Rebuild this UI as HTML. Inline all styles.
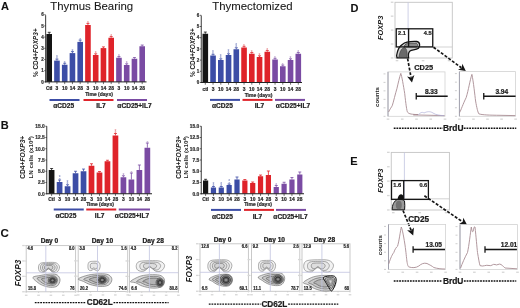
<!DOCTYPE html><html><head><meta charset="utf-8"><style>html,body{margin:0;padding:0;background:#fff;width:520px;height:308px;overflow:hidden}svg{display:block;filter:blur(0.3px)}</style></head><body>
<svg width="520" height="308" viewBox="0 0 520 308">
<rect width="520" height="308" fill="#fff"/>
<text x="4.90" y="9.95" font-family="Liberation Sans" font-size="11" font-weight="bold" text-anchor="middle" fill="#111" stroke="#111" stroke-width="0.1" >A</text>
<text x="4.80" y="129.10" font-family="Liberation Sans" font-size="11" font-weight="bold" text-anchor="middle" fill="#111" stroke="#111" stroke-width="0.1" >B</text>
<text x="4.70" y="236.90" font-family="Liberation Sans" font-size="11.5" font-weight="bold" text-anchor="middle" fill="#111" stroke="#111" stroke-width="0.1" >C</text>
<text x="354.40" y="11.90" font-family="Liberation Sans" font-size="11" font-weight="bold" text-anchor="middle" fill="#111" stroke="#111" stroke-width="0.1" >D</text>
<text x="354.00" y="165.00" font-family="Liberation Sans" font-size="11" font-weight="bold" text-anchor="middle" fill="#111" stroke="#111" stroke-width="0.1" >E</text>
<text x="91.70" y="9.90" font-family="Liberation Sans" font-size="11.4" font-weight="normal" text-anchor="middle" fill="#1a1a1a" stroke="#1a1a1a" stroke-width="0.1" >Thymus Bearing</text>
<text x="252.50" y="9.90" font-family="Liberation Sans" font-size="11.4" font-weight="normal" text-anchor="middle" fill="#1a1a1a" stroke="#1a1a1a" stroke-width="0.1" >Thymectomized</text>
<rect x="46.40" y="34.00" width="5.6" height="47.90" fill="#141414"/>
<line x1="49.20" y1="32.30" x2="49.20" y2="34.00" stroke="#141414" stroke-width="0.8"/>
<line x1="47.70" y1="32.30" x2="50.70" y2="32.30" stroke="#141414" stroke-width="0.8"/>
<line x1="49.20" y1="81.90" x2="49.20" y2="84.10" stroke="#222" stroke-width="0.65"/>
<rect x="54.15" y="60.60" width="5.6" height="21.30" fill="#3c4da6"/>
<line x1="56.95" y1="59.10" x2="56.95" y2="60.60" stroke="#3c4da6" stroke-width="0.8"/>
<line x1="55.45" y1="59.10" x2="58.45" y2="59.10" stroke="#3c4da6" stroke-width="0.8"/>
<text x="56.95" y="60.70" font-family="Liberation Sans" font-size="4.8" font-weight="bold" text-anchor="middle" fill="#8a94c8">*</text>
<text x="56.95" y="58.50" font-family="Liberation Sans" font-size="4.8" font-weight="bold" text-anchor="middle" fill="#8a94c8">*</text>
<line x1="56.95" y1="81.90" x2="56.95" y2="84.10" stroke="#222" stroke-width="0.65"/>
<rect x="61.90" y="64.75" width="5.6" height="17.15" fill="#3c4da6"/>
<line x1="64.70" y1="63.25" x2="64.70" y2="64.75" stroke="#3c4da6" stroke-width="0.8"/>
<line x1="63.20" y1="63.25" x2="66.20" y2="63.25" stroke="#3c4da6" stroke-width="0.8"/>
<text x="64.70" y="64.85" font-family="Liberation Sans" font-size="4.8" font-weight="bold" text-anchor="middle" fill="#8a94c8">*</text>
<line x1="64.70" y1="81.90" x2="64.70" y2="84.10" stroke="#222" stroke-width="0.65"/>
<rect x="69.65" y="53.10" width="5.6" height="28.80" fill="#3c4da6"/>
<line x1="72.45" y1="51.60" x2="72.45" y2="53.10" stroke="#3c4da6" stroke-width="0.8"/>
<line x1="70.95" y1="51.60" x2="73.95" y2="51.60" stroke="#3c4da6" stroke-width="0.8"/>
<text x="72.45" y="53.20" font-family="Liberation Sans" font-size="4.8" font-weight="bold" text-anchor="middle" fill="#8a94c8">*</text>
<line x1="72.45" y1="81.90" x2="72.45" y2="84.10" stroke="#222" stroke-width="0.65"/>
<rect x="77.40" y="41.90" width="5.6" height="40.00" fill="#3c4da6"/>
<line x1="80.20" y1="40.10" x2="80.20" y2="41.90" stroke="#3c4da6" stroke-width="0.8"/>
<line x1="78.70" y1="40.10" x2="81.70" y2="40.10" stroke="#3c4da6" stroke-width="0.8"/>
<text x="80.20" y="41.70" font-family="Liberation Sans" font-size="4.8" font-weight="bold" text-anchor="middle" fill="#8a94c8">*</text>
<line x1="80.20" y1="81.90" x2="80.20" y2="84.10" stroke="#222" stroke-width="0.65"/>
<rect x="85.15" y="25.00" width="5.6" height="56.90" fill="#df232a"/>
<line x1="87.95" y1="23.40" x2="87.95" y2="25.00" stroke="#df232a" stroke-width="0.8"/>
<line x1="86.45" y1="23.40" x2="89.45" y2="23.40" stroke="#df232a" stroke-width="0.8"/>
<text x="87.95" y="25.00" font-family="Liberation Sans" font-size="4.8" font-weight="bold" text-anchor="middle" fill="#e88a8e">*</text>
<line x1="87.95" y1="81.90" x2="87.95" y2="84.10" stroke="#222" stroke-width="0.65"/>
<rect x="92.90" y="55.00" width="5.6" height="26.90" fill="#df232a"/>
<line x1="95.70" y1="53.80" x2="95.70" y2="55.00" stroke="#df232a" stroke-width="0.8"/>
<line x1="94.20" y1="53.80" x2="97.20" y2="53.80" stroke="#df232a" stroke-width="0.8"/>
<text x="95.70" y="55.40" font-family="Liberation Sans" font-size="4.8" font-weight="bold" text-anchor="middle" fill="#e88a8e">*</text>
<line x1="95.70" y1="81.90" x2="95.70" y2="84.10" stroke="#222" stroke-width="0.65"/>
<rect x="100.65" y="48.10" width="5.6" height="33.80" fill="#df232a"/>
<line x1="103.45" y1="46.90" x2="103.45" y2="48.10" stroke="#df232a" stroke-width="0.8"/>
<line x1="101.95" y1="46.90" x2="104.95" y2="46.90" stroke="#df232a" stroke-width="0.8"/>
<line x1="103.45" y1="81.90" x2="103.45" y2="84.10" stroke="#222" stroke-width="0.65"/>
<rect x="108.40" y="37.75" width="5.6" height="44.15" fill="#df232a"/>
<line x1="111.20" y1="36.55" x2="111.20" y2="37.75" stroke="#df232a" stroke-width="0.8"/>
<line x1="109.70" y1="36.55" x2="112.70" y2="36.55" stroke="#df232a" stroke-width="0.8"/>
<text x="111.20" y="38.15" font-family="Liberation Sans" font-size="4.8" font-weight="bold" text-anchor="middle" fill="#e88a8e">*</text>
<line x1="111.20" y1="81.90" x2="111.20" y2="84.10" stroke="#222" stroke-width="0.65"/>
<rect x="116.15" y="57.75" width="5.6" height="24.15" fill="#7a4ba3"/>
<line x1="118.95" y1="56.55" x2="118.95" y2="57.75" stroke="#7a4ba3" stroke-width="0.8"/>
<line x1="117.45" y1="56.55" x2="120.45" y2="56.55" stroke="#7a4ba3" stroke-width="0.8"/>
<text x="118.95" y="58.15" font-family="Liberation Sans" font-size="4.8" font-weight="bold" text-anchor="middle" fill="#b49ac8">*</text>
<line x1="118.95" y1="81.90" x2="118.95" y2="84.10" stroke="#222" stroke-width="0.65"/>
<rect x="123.90" y="65.00" width="5.6" height="16.90" fill="#7a4ba3"/>
<line x1="126.70" y1="63.80" x2="126.70" y2="65.00" stroke="#7a4ba3" stroke-width="0.8"/>
<line x1="125.20" y1="63.80" x2="128.20" y2="63.80" stroke="#7a4ba3" stroke-width="0.8"/>
<text x="126.70" y="65.40" font-family="Liberation Sans" font-size="4.8" font-weight="bold" text-anchor="middle" fill="#b49ac8">*</text>
<line x1="126.70" y1="81.90" x2="126.70" y2="84.10" stroke="#222" stroke-width="0.65"/>
<rect x="131.65" y="58.75" width="5.6" height="23.15" fill="#7a4ba3"/>
<line x1="134.45" y1="57.55" x2="134.45" y2="58.75" stroke="#7a4ba3" stroke-width="0.8"/>
<line x1="132.95" y1="57.55" x2="135.95" y2="57.55" stroke="#7a4ba3" stroke-width="0.8"/>
<line x1="134.45" y1="81.90" x2="134.45" y2="84.10" stroke="#222" stroke-width="0.65"/>
<rect x="139.40" y="46.25" width="5.6" height="35.65" fill="#7a4ba3"/>
<line x1="142.20" y1="45.05" x2="142.20" y2="46.25" stroke="#7a4ba3" stroke-width="0.8"/>
<line x1="140.70" y1="45.05" x2="143.70" y2="45.05" stroke="#7a4ba3" stroke-width="0.8"/>
<line x1="142.20" y1="81.90" x2="142.20" y2="84.10" stroke="#222" stroke-width="0.65"/>
<line x1="45.65" y1="15.2" x2="45.65" y2="82.4" stroke="#222" stroke-width="0.9"/>
<line x1="45.25" y1="81.9" x2="146.5" y2="81.9" stroke="#222" stroke-width="1"/>
<line x1="44.25" y1="81.90" x2="45.65" y2="81.90" stroke="#222" stroke-width="0.7"/>
<text x="43.65" y="83.52" font-family="Liberation Sans" font-size="4.5" font-weight="bold" text-anchor="end" fill="#333" stroke="#333" stroke-width="0.22" >0</text>
<line x1="44.25" y1="70.70" x2="45.65" y2="70.70" stroke="#222" stroke-width="0.7"/>
<text x="43.65" y="72.32" font-family="Liberation Sans" font-size="4.5" font-weight="bold" text-anchor="end" fill="#333" stroke="#333" stroke-width="0.22" >1</text>
<line x1="44.25" y1="59.50" x2="45.65" y2="59.50" stroke="#222" stroke-width="0.7"/>
<text x="43.65" y="61.12" font-family="Liberation Sans" font-size="4.5" font-weight="bold" text-anchor="end" fill="#333" stroke="#333" stroke-width="0.22" >2</text>
<line x1="44.25" y1="48.30" x2="45.65" y2="48.30" stroke="#222" stroke-width="0.7"/>
<text x="43.65" y="49.92" font-family="Liberation Sans" font-size="4.5" font-weight="bold" text-anchor="end" fill="#333" stroke="#333" stroke-width="0.22" >3</text>
<line x1="44.25" y1="37.10" x2="45.65" y2="37.10" stroke="#222" stroke-width="0.7"/>
<text x="43.65" y="38.72" font-family="Liberation Sans" font-size="4.5" font-weight="bold" text-anchor="end" fill="#333" stroke="#333" stroke-width="0.22" >4</text>
<line x1="44.25" y1="25.90" x2="45.65" y2="25.90" stroke="#222" stroke-width="0.7"/>
<text x="43.65" y="27.52" font-family="Liberation Sans" font-size="4.5" font-weight="bold" text-anchor="end" fill="#333" stroke="#333" stroke-width="0.22" >5</text>
<line x1="44.25" y1="14.70" x2="45.65" y2="14.70" stroke="#222" stroke-width="0.7"/>
<text x="43.65" y="16.32" font-family="Liberation Sans" font-size="4.5" font-weight="bold" text-anchor="end" fill="#333" stroke="#333" stroke-width="0.22" >6</text>
<text x="49.20" y="89.85" font-family="Liberation Sans" font-size="4.9" font-weight="bold" text-anchor="middle" fill="#2a2a2a" stroke="#2a2a2a" stroke-width="0.22" >Ctl</text>
<text x="56.95" y="89.85" font-family="Liberation Sans" font-size="4.9" font-weight="bold" text-anchor="middle" fill="#2a2a2a" stroke="#2a2a2a" stroke-width="0.22" >3</text>
<text x="64.70" y="89.85" font-family="Liberation Sans" font-size="4.9" font-weight="bold" text-anchor="middle" fill="#2a2a2a" stroke="#2a2a2a" stroke-width="0.22" >10</text>
<text x="72.45" y="89.85" font-family="Liberation Sans" font-size="4.9" font-weight="bold" text-anchor="middle" fill="#2a2a2a" stroke="#2a2a2a" stroke-width="0.22" >14</text>
<text x="80.20" y="89.85" font-family="Liberation Sans" font-size="4.9" font-weight="bold" text-anchor="middle" fill="#2a2a2a" stroke="#2a2a2a" stroke-width="0.22" >28</text>
<text x="87.95" y="89.85" font-family="Liberation Sans" font-size="4.9" font-weight="bold" text-anchor="middle" fill="#2a2a2a" stroke="#2a2a2a" stroke-width="0.22" >3</text>
<text x="95.70" y="89.85" font-family="Liberation Sans" font-size="4.9" font-weight="bold" text-anchor="middle" fill="#2a2a2a" stroke="#2a2a2a" stroke-width="0.22" >10</text>
<text x="103.45" y="89.85" font-family="Liberation Sans" font-size="4.9" font-weight="bold" text-anchor="middle" fill="#2a2a2a" stroke="#2a2a2a" stroke-width="0.22" >14</text>
<text x="111.20" y="89.85" font-family="Liberation Sans" font-size="4.9" font-weight="bold" text-anchor="middle" fill="#2a2a2a" stroke="#2a2a2a" stroke-width="0.22" >28</text>
<text x="118.95" y="89.85" font-family="Liberation Sans" font-size="4.9" font-weight="bold" text-anchor="middle" fill="#2a2a2a" stroke="#2a2a2a" stroke-width="0.22" >3</text>
<text x="126.70" y="89.85" font-family="Liberation Sans" font-size="4.9" font-weight="bold" text-anchor="middle" fill="#2a2a2a" stroke="#2a2a2a" stroke-width="0.22" >10</text>
<text x="134.45" y="89.85" font-family="Liberation Sans" font-size="4.9" font-weight="bold" text-anchor="middle" fill="#2a2a2a" stroke="#2a2a2a" stroke-width="0.22" >14</text>
<text x="142.20" y="89.85" font-family="Liberation Sans" font-size="4.9" font-weight="bold" text-anchor="middle" fill="#2a2a2a" stroke="#2a2a2a" stroke-width="0.22" >28</text>
<text x="99.00" y="96.00" font-family="Liberation Sans" font-size="5.0" font-weight="bold" text-anchor="middle" fill="#2a2a2a" stroke="#2a2a2a" stroke-width="0.22" >Time (days)</text>
<line x1="49.5" y1="100" x2="79.5" y2="100" stroke="#3c4da6" stroke-width="2.0"/>
<line x1="83.5" y1="100" x2="113.5" y2="100" stroke="#df232a" stroke-width="2.0"/>
<line x1="117" y1="100" x2="147" y2="100" stroke="#7a4ba3" stroke-width="2.0"/>
<text x="63.70" y="107.90" font-family="Liberation Sans" font-size="6.6" font-weight="bold" text-anchor="middle" fill="#222" stroke="#222" stroke-width="0.22" >αCD25</text>
<text x="101.00" y="107.90" font-family="Liberation Sans" font-size="6.6" font-weight="bold" text-anchor="middle" fill="#222" stroke="#222" stroke-width="0.22" >IL7</text>
<text x="134.50" y="107.90" font-family="Liberation Sans" font-size="6.6" font-weight="bold" text-anchor="middle" fill="#222" stroke="#222" stroke-width="0.22" >αCD25+IL7</text>
<g transform="translate(37.8,52.7) rotate(-90)"><text x="0" y="0" font-family="Liberation Sans" font-size="6.4" font-weight="bold" text-anchor="middle" fill="#222">% CD4+<tspan font-style="italic">FOXP3</tspan>+</text></g>
<rect x="202.50" y="33.75" width="5.6" height="48.75" fill="#141414"/>
<line x1="205.30" y1="32.05" x2="205.30" y2="33.75" stroke="#141414" stroke-width="0.8"/>
<line x1="203.80" y1="32.05" x2="206.80" y2="32.05" stroke="#141414" stroke-width="0.8"/>
<line x1="205.30" y1="82.50" x2="205.30" y2="84.70" stroke="#222" stroke-width="0.65"/>
<rect x="210.25" y="55.50" width="5.6" height="27.00" fill="#3c4da6"/>
<line x1="213.05" y1="54.30" x2="213.05" y2="55.50" stroke="#3c4da6" stroke-width="0.8"/>
<line x1="211.55" y1="54.30" x2="214.55" y2="54.30" stroke="#3c4da6" stroke-width="0.8"/>
<text x="213.05" y="55.90" font-family="Liberation Sans" font-size="4.8" font-weight="bold" text-anchor="middle" fill="#8a94c8">*</text>
<text x="213.05" y="53.70" font-family="Liberation Sans" font-size="4.8" font-weight="bold" text-anchor="middle" fill="#8a94c8">*</text>
<line x1="213.05" y1="82.50" x2="213.05" y2="84.70" stroke="#222" stroke-width="0.65"/>
<rect x="218.00" y="60.00" width="5.6" height="22.50" fill="#3c4da6"/>
<line x1="220.80" y1="58.80" x2="220.80" y2="60.00" stroke="#3c4da6" stroke-width="0.8"/>
<line x1="219.30" y1="58.80" x2="222.30" y2="58.80" stroke="#3c4da6" stroke-width="0.8"/>
<text x="220.80" y="60.40" font-family="Liberation Sans" font-size="4.8" font-weight="bold" text-anchor="middle" fill="#8a94c8">*</text>
<text x="220.80" y="58.20" font-family="Liberation Sans" font-size="4.8" font-weight="bold" text-anchor="middle" fill="#8a94c8">*</text>
<line x1="220.80" y1="82.50" x2="220.80" y2="84.70" stroke="#222" stroke-width="0.65"/>
<rect x="225.75" y="55.00" width="5.6" height="27.50" fill="#3c4da6"/>
<line x1="228.55" y1="53.80" x2="228.55" y2="55.00" stroke="#3c4da6" stroke-width="0.8"/>
<line x1="227.05" y1="53.80" x2="230.05" y2="53.80" stroke="#3c4da6" stroke-width="0.8"/>
<text x="228.55" y="55.40" font-family="Liberation Sans" font-size="4.8" font-weight="bold" text-anchor="middle" fill="#8a94c8">*</text>
<text x="228.55" y="53.20" font-family="Liberation Sans" font-size="4.8" font-weight="bold" text-anchor="middle" fill="#8a94c8">*</text>
<line x1="228.55" y1="82.50" x2="228.55" y2="84.70" stroke="#222" stroke-width="0.65"/>
<rect x="233.50" y="49.25" width="5.6" height="33.25" fill="#3c4da6"/>
<line x1="236.30" y1="47.75" x2="236.30" y2="49.25" stroke="#3c4da6" stroke-width="0.8"/>
<line x1="234.80" y1="47.75" x2="237.80" y2="47.75" stroke="#3c4da6" stroke-width="0.8"/>
<text x="236.30" y="49.35" font-family="Liberation Sans" font-size="4.8" font-weight="bold" text-anchor="middle" fill="#8a94c8">*</text>
<text x="236.30" y="47.15" font-family="Liberation Sans" font-size="4.8" font-weight="bold" text-anchor="middle" fill="#8a94c8">*</text>
<line x1="236.30" y1="82.50" x2="236.30" y2="84.70" stroke="#222" stroke-width="0.65"/>
<rect x="241.25" y="47.50" width="5.6" height="35.00" fill="#df232a"/>
<line x1="244.05" y1="46.30" x2="244.05" y2="47.50" stroke="#df232a" stroke-width="0.8"/>
<line x1="242.55" y1="46.30" x2="245.55" y2="46.30" stroke="#df232a" stroke-width="0.8"/>
<text x="244.05" y="47.90" font-family="Liberation Sans" font-size="4.8" font-weight="bold" text-anchor="middle" fill="#e88a8e">*</text>
<line x1="244.05" y1="82.50" x2="244.05" y2="84.70" stroke="#222" stroke-width="0.65"/>
<rect x="249.00" y="53.75" width="5.6" height="28.75" fill="#df232a"/>
<line x1="251.80" y1="52.55" x2="251.80" y2="53.75" stroke="#df232a" stroke-width="0.8"/>
<line x1="250.30" y1="52.55" x2="253.30" y2="52.55" stroke="#df232a" stroke-width="0.8"/>
<text x="251.80" y="54.15" font-family="Liberation Sans" font-size="4.8" font-weight="bold" text-anchor="middle" fill="#e88a8e">*</text>
<line x1="251.80" y1="82.50" x2="251.80" y2="84.70" stroke="#222" stroke-width="0.65"/>
<rect x="256.75" y="57.00" width="5.6" height="25.50" fill="#df232a"/>
<line x1="259.55" y1="55.80" x2="259.55" y2="57.00" stroke="#df232a" stroke-width="0.8"/>
<line x1="258.05" y1="55.80" x2="261.05" y2="55.80" stroke="#df232a" stroke-width="0.8"/>
<text x="259.55" y="57.40" font-family="Liberation Sans" font-size="4.8" font-weight="bold" text-anchor="middle" fill="#e88a8e">*</text>
<line x1="259.55" y1="82.50" x2="259.55" y2="84.70" stroke="#222" stroke-width="0.65"/>
<rect x="264.50" y="51.75" width="5.6" height="30.75" fill="#df232a"/>
<line x1="267.30" y1="50.55" x2="267.30" y2="51.75" stroke="#df232a" stroke-width="0.8"/>
<line x1="265.80" y1="50.55" x2="268.80" y2="50.55" stroke="#df232a" stroke-width="0.8"/>
<text x="267.30" y="52.15" font-family="Liberation Sans" font-size="4.8" font-weight="bold" text-anchor="middle" fill="#e88a8e">*</text>
<line x1="267.30" y1="82.50" x2="267.30" y2="84.70" stroke="#222" stroke-width="0.65"/>
<rect x="272.25" y="59.50" width="5.6" height="23.00" fill="#7a4ba3"/>
<line x1="275.05" y1="58.30" x2="275.05" y2="59.50" stroke="#7a4ba3" stroke-width="0.8"/>
<line x1="273.55" y1="58.30" x2="276.55" y2="58.30" stroke="#7a4ba3" stroke-width="0.8"/>
<text x="275.05" y="59.90" font-family="Liberation Sans" font-size="4.8" font-weight="bold" text-anchor="middle" fill="#b49ac8">*</text>
<line x1="275.05" y1="82.50" x2="275.05" y2="84.70" stroke="#222" stroke-width="0.65"/>
<rect x="280.00" y="66.25" width="5.6" height="16.25" fill="#7a4ba3"/>
<line x1="282.80" y1="65.05" x2="282.80" y2="66.25" stroke="#7a4ba3" stroke-width="0.8"/>
<line x1="281.30" y1="65.05" x2="284.30" y2="65.05" stroke="#7a4ba3" stroke-width="0.8"/>
<text x="282.80" y="66.65" font-family="Liberation Sans" font-size="4.8" font-weight="bold" text-anchor="middle" fill="#b49ac8">*</text>
<line x1="282.80" y1="82.50" x2="282.80" y2="84.70" stroke="#222" stroke-width="0.65"/>
<rect x="287.75" y="60.00" width="5.6" height="22.50" fill="#7a4ba3"/>
<line x1="290.55" y1="58.80" x2="290.55" y2="60.00" stroke="#7a4ba3" stroke-width="0.8"/>
<line x1="289.05" y1="58.80" x2="292.05" y2="58.80" stroke="#7a4ba3" stroke-width="0.8"/>
<text x="290.55" y="60.40" font-family="Liberation Sans" font-size="4.8" font-weight="bold" text-anchor="middle" fill="#b49ac8">*</text>
<line x1="290.55" y1="82.50" x2="290.55" y2="84.70" stroke="#222" stroke-width="0.65"/>
<rect x="295.50" y="53.75" width="5.6" height="28.75" fill="#7a4ba3"/>
<line x1="298.30" y1="52.55" x2="298.30" y2="53.75" stroke="#7a4ba3" stroke-width="0.8"/>
<line x1="296.80" y1="52.55" x2="299.80" y2="52.55" stroke="#7a4ba3" stroke-width="0.8"/>
<text x="298.30" y="54.15" font-family="Liberation Sans" font-size="4.8" font-weight="bold" text-anchor="middle" fill="#b49ac8">*</text>
<line x1="298.30" y1="82.50" x2="298.30" y2="84.70" stroke="#222" stroke-width="0.65"/>
<line x1="201.25" y1="15.5" x2="201.25" y2="83.0" stroke="#222" stroke-width="0.9"/>
<line x1="200.85" y1="82.5" x2="302" y2="82.5" stroke="#222" stroke-width="1"/>
<line x1="199.85" y1="82.50" x2="201.25" y2="82.50" stroke="#222" stroke-width="0.7"/>
<text x="199.25" y="84.12" font-family="Liberation Sans" font-size="4.5" font-weight="bold" text-anchor="end" fill="#333" stroke="#333" stroke-width="0.22" >0</text>
<line x1="199.85" y1="71.30" x2="201.25" y2="71.30" stroke="#222" stroke-width="0.7"/>
<text x="199.25" y="72.92" font-family="Liberation Sans" font-size="4.5" font-weight="bold" text-anchor="end" fill="#333" stroke="#333" stroke-width="0.22" >1</text>
<line x1="199.85" y1="60.10" x2="201.25" y2="60.10" stroke="#222" stroke-width="0.7"/>
<text x="199.25" y="61.72" font-family="Liberation Sans" font-size="4.5" font-weight="bold" text-anchor="end" fill="#333" stroke="#333" stroke-width="0.22" >2</text>
<line x1="199.85" y1="48.90" x2="201.25" y2="48.90" stroke="#222" stroke-width="0.7"/>
<text x="199.25" y="50.52" font-family="Liberation Sans" font-size="4.5" font-weight="bold" text-anchor="end" fill="#333" stroke="#333" stroke-width="0.22" >3</text>
<line x1="199.85" y1="37.70" x2="201.25" y2="37.70" stroke="#222" stroke-width="0.7"/>
<text x="199.25" y="39.32" font-family="Liberation Sans" font-size="4.5" font-weight="bold" text-anchor="end" fill="#333" stroke="#333" stroke-width="0.22" >4</text>
<line x1="199.85" y1="26.50" x2="201.25" y2="26.50" stroke="#222" stroke-width="0.7"/>
<text x="199.25" y="28.12" font-family="Liberation Sans" font-size="4.5" font-weight="bold" text-anchor="end" fill="#333" stroke="#333" stroke-width="0.22" >5</text>
<line x1="199.85" y1="15.30" x2="201.25" y2="15.30" stroke="#222" stroke-width="0.7"/>
<text x="199.25" y="16.92" font-family="Liberation Sans" font-size="4.5" font-weight="bold" text-anchor="end" fill="#333" stroke="#333" stroke-width="0.22" >6</text>
<text x="205.30" y="90.50" font-family="Liberation Sans" font-size="4.9" font-weight="bold" text-anchor="middle" fill="#2a2a2a" stroke="#2a2a2a" stroke-width="0.22" >ctl</text>
<text x="213.05" y="90.50" font-family="Liberation Sans" font-size="4.9" font-weight="bold" text-anchor="middle" fill="#2a2a2a" stroke="#2a2a2a" stroke-width="0.22" >3</text>
<text x="220.80" y="90.50" font-family="Liberation Sans" font-size="4.9" font-weight="bold" text-anchor="middle" fill="#2a2a2a" stroke="#2a2a2a" stroke-width="0.22" >10</text>
<text x="228.55" y="90.50" font-family="Liberation Sans" font-size="4.9" font-weight="bold" text-anchor="middle" fill="#2a2a2a" stroke="#2a2a2a" stroke-width="0.22" >14</text>
<text x="236.30" y="90.50" font-family="Liberation Sans" font-size="4.9" font-weight="bold" text-anchor="middle" fill="#2a2a2a" stroke="#2a2a2a" stroke-width="0.22" >28</text>
<text x="244.05" y="90.50" font-family="Liberation Sans" font-size="4.9" font-weight="bold" text-anchor="middle" fill="#2a2a2a" stroke="#2a2a2a" stroke-width="0.22" >3</text>
<text x="251.80" y="90.50" font-family="Liberation Sans" font-size="4.9" font-weight="bold" text-anchor="middle" fill="#2a2a2a" stroke="#2a2a2a" stroke-width="0.22" >10</text>
<text x="259.55" y="90.50" font-family="Liberation Sans" font-size="4.9" font-weight="bold" text-anchor="middle" fill="#2a2a2a" stroke="#2a2a2a" stroke-width="0.22" >14</text>
<text x="267.30" y="90.50" font-family="Liberation Sans" font-size="4.9" font-weight="bold" text-anchor="middle" fill="#2a2a2a" stroke="#2a2a2a" stroke-width="0.22" >28</text>
<text x="275.05" y="90.50" font-family="Liberation Sans" font-size="4.9" font-weight="bold" text-anchor="middle" fill="#2a2a2a" stroke="#2a2a2a" stroke-width="0.22" >3</text>
<text x="282.80" y="90.50" font-family="Liberation Sans" font-size="4.9" font-weight="bold" text-anchor="middle" fill="#2a2a2a" stroke="#2a2a2a" stroke-width="0.22" >10</text>
<text x="290.55" y="90.50" font-family="Liberation Sans" font-size="4.9" font-weight="bold" text-anchor="middle" fill="#2a2a2a" stroke="#2a2a2a" stroke-width="0.22" >14</text>
<text x="298.30" y="90.50" font-family="Liberation Sans" font-size="4.9" font-weight="bold" text-anchor="middle" fill="#2a2a2a" stroke="#2a2a2a" stroke-width="0.22" >28</text>
<text x="258.50" y="96.75" font-family="Liberation Sans" font-size="5.0" font-weight="bold" text-anchor="middle" fill="#2a2a2a" stroke="#2a2a2a" stroke-width="0.22" >Time (days)</text>
<line x1="210" y1="99.9" x2="240" y2="99.9" stroke="#3c4da6" stroke-width="2.0"/>
<line x1="242.5" y1="99.9" x2="272.5" y2="99.9" stroke="#df232a" stroke-width="2.0"/>
<line x1="275" y1="99.9" x2="305" y2="99.9" stroke="#7a4ba3" stroke-width="2.0"/>
<text x="222.50" y="108.40" font-family="Liberation Sans" font-size="6.6" font-weight="bold" text-anchor="middle" fill="#222" stroke="#222" stroke-width="0.22" >αCD25</text>
<text x="259.50" y="108.40" font-family="Liberation Sans" font-size="6.6" font-weight="bold" text-anchor="middle" fill="#222" stroke="#222" stroke-width="0.22" >IL7</text>
<text x="293.00" y="108.40" font-family="Liberation Sans" font-size="6.6" font-weight="bold" text-anchor="middle" fill="#222" stroke="#222" stroke-width="0.22" >αCD25+IL7</text>
<g transform="translate(194.8,52.7) rotate(-90)"><text x="0" y="0" font-family="Liberation Sans" font-size="6.4" font-weight="bold" text-anchor="middle" fill="#222">% CD4+<tspan font-style="italic">FOXP3</tspan>+</text></g>
<rect x="48.75" y="170.00" width="5.7" height="23.75" fill="#141414"/>
<line x1="51.60" y1="168.50" x2="51.60" y2="170.00" stroke="#141414" stroke-width="0.8"/>
<line x1="50.10" y1="168.50" x2="53.10" y2="168.50" stroke="#141414" stroke-width="0.8"/>
<line x1="51.60" y1="193.75" x2="51.60" y2="195.95" stroke="#222" stroke-width="0.65"/>
<rect x="56.73" y="182.00" width="5.7" height="11.75" fill="#3c4da6"/>
<line x1="59.58" y1="180.00" x2="59.58" y2="182.00" stroke="#3c4da6" stroke-width="0.8"/>
<line x1="58.08" y1="180.00" x2="61.08" y2="180.00" stroke="#3c4da6" stroke-width="0.8"/>
<text x="59.58" y="181.60" font-family="Liberation Sans" font-size="4.8" font-weight="bold" text-anchor="middle" fill="#8a94c8">*</text>
<text x="59.58" y="179.40" font-family="Liberation Sans" font-size="4.8" font-weight="bold" text-anchor="middle" fill="#8a94c8">*</text>
<line x1="59.58" y1="193.75" x2="59.58" y2="195.95" stroke="#222" stroke-width="0.65"/>
<rect x="64.71" y="186.25" width="5.7" height="7.50" fill="#3c4da6"/>
<line x1="67.56" y1="184.75" x2="67.56" y2="186.25" stroke="#3c4da6" stroke-width="0.8"/>
<line x1="66.06" y1="184.75" x2="69.06" y2="184.75" stroke="#3c4da6" stroke-width="0.8"/>
<text x="67.56" y="186.35" font-family="Liberation Sans" font-size="4.8" font-weight="bold" text-anchor="middle" fill="#8a94c8">*</text>
<text x="67.56" y="184.15" font-family="Liberation Sans" font-size="4.8" font-weight="bold" text-anchor="middle" fill="#8a94c8">*</text>
<line x1="67.56" y1="193.75" x2="67.56" y2="195.95" stroke="#222" stroke-width="0.65"/>
<rect x="72.69" y="173.25" width="5.7" height="20.50" fill="#3c4da6"/>
<line x1="75.54" y1="171.25" x2="75.54" y2="173.25" stroke="#3c4da6" stroke-width="0.8"/>
<line x1="74.04" y1="171.25" x2="77.04" y2="171.25" stroke="#3c4da6" stroke-width="0.8"/>
<line x1="75.54" y1="193.75" x2="75.54" y2="195.95" stroke="#222" stroke-width="0.65"/>
<rect x="80.67" y="171.25" width="5.7" height="22.50" fill="#3c4da6"/>
<line x1="83.52" y1="169.05" x2="83.52" y2="171.25" stroke="#3c4da6" stroke-width="0.8"/>
<line x1="82.02" y1="169.05" x2="85.02" y2="169.05" stroke="#3c4da6" stroke-width="0.8"/>
<line x1="83.52" y1="193.75" x2="83.52" y2="195.95" stroke="#222" stroke-width="0.65"/>
<rect x="88.65" y="165.75" width="5.7" height="28.00" fill="#df232a"/>
<line x1="91.50" y1="163.75" x2="91.50" y2="165.75" stroke="#df232a" stroke-width="0.8"/>
<line x1="90.00" y1="163.75" x2="93.00" y2="163.75" stroke="#df232a" stroke-width="0.8"/>
<line x1="91.50" y1="193.75" x2="91.50" y2="195.95" stroke="#222" stroke-width="0.65"/>
<rect x="96.63" y="172.50" width="5.7" height="21.25" fill="#df232a"/>
<line x1="99.48" y1="171.50" x2="99.48" y2="172.50" stroke="#df232a" stroke-width="0.8"/>
<line x1="97.98" y1="171.50" x2="100.98" y2="171.50" stroke="#df232a" stroke-width="0.8"/>
<line x1="99.48" y1="193.75" x2="99.48" y2="195.95" stroke="#222" stroke-width="0.65"/>
<rect x="104.61" y="161.25" width="5.7" height="32.50" fill="#df232a"/>
<line x1="107.46" y1="160.25" x2="107.46" y2="161.25" stroke="#df232a" stroke-width="0.8"/>
<line x1="105.96" y1="160.25" x2="108.96" y2="160.25" stroke="#df232a" stroke-width="0.8"/>
<line x1="107.46" y1="193.75" x2="107.46" y2="195.95" stroke="#222" stroke-width="0.65"/>
<rect x="112.59" y="135.50" width="5.7" height="58.25" fill="#df232a"/>
<line x1="115.44" y1="133.50" x2="115.44" y2="135.50" stroke="#df232a" stroke-width="0.8"/>
<line x1="113.94" y1="133.50" x2="116.94" y2="133.50" stroke="#df232a" stroke-width="0.8"/>
<text x="115.44" y="135.10" font-family="Liberation Sans" font-size="4.8" font-weight="bold" text-anchor="middle" fill="#e88a8e">*</text>
<text x="115.44" y="132.90" font-family="Liberation Sans" font-size="4.8" font-weight="bold" text-anchor="middle" fill="#e88a8e">*</text>
<line x1="115.44" y1="193.75" x2="115.44" y2="195.95" stroke="#222" stroke-width="0.65"/>
<rect x="120.57" y="177.25" width="5.7" height="16.50" fill="#7a4ba3"/>
<line x1="123.42" y1="175.75" x2="123.42" y2="177.25" stroke="#7a4ba3" stroke-width="0.8"/>
<line x1="121.92" y1="175.75" x2="124.92" y2="175.75" stroke="#7a4ba3" stroke-width="0.8"/>
<text x="123.42" y="177.35" font-family="Liberation Sans" font-size="4.8" font-weight="bold" text-anchor="middle" fill="#b49ac8">*</text>
<line x1="123.42" y1="193.75" x2="123.42" y2="195.95" stroke="#222" stroke-width="0.65"/>
<rect x="128.55" y="179.50" width="5.7" height="14.25" fill="#7a4ba3"/>
<line x1="131.40" y1="173.00" x2="131.40" y2="179.50" stroke="#7a4ba3" stroke-width="0.8"/>
<line x1="129.90" y1="173.00" x2="132.90" y2="173.00" stroke="#7a4ba3" stroke-width="0.8"/>
<text x="131.40" y="174.60" font-family="Liberation Sans" font-size="4.8" font-weight="bold" text-anchor="middle" fill="#b49ac8">*</text>
<line x1="131.40" y1="193.75" x2="131.40" y2="195.95" stroke="#222" stroke-width="0.65"/>
<rect x="136.53" y="170.00" width="5.7" height="23.75" fill="#7a4ba3"/>
<line x1="139.38" y1="165.00" x2="139.38" y2="170.00" stroke="#7a4ba3" stroke-width="0.8"/>
<line x1="137.88" y1="165.00" x2="140.88" y2="165.00" stroke="#7a4ba3" stroke-width="0.8"/>
<line x1="139.38" y1="193.75" x2="139.38" y2="195.95" stroke="#222" stroke-width="0.65"/>
<rect x="144.51" y="147.75" width="5.7" height="46.00" fill="#7a4ba3"/>
<line x1="147.36" y1="143.05" x2="147.36" y2="147.75" stroke="#7a4ba3" stroke-width="0.8"/>
<line x1="145.86" y1="143.05" x2="148.86" y2="143.05" stroke="#7a4ba3" stroke-width="0.8"/>
<text x="147.36" y="144.65" font-family="Liberation Sans" font-size="4.8" font-weight="bold" text-anchor="middle" fill="#b49ac8">*</text>
<line x1="147.36" y1="193.75" x2="147.36" y2="195.95" stroke="#222" stroke-width="0.65"/>
<line x1="46.75" y1="126.2" x2="46.75" y2="194.25" stroke="#222" stroke-width="0.9"/>
<line x1="46.35" y1="193.75" x2="152" y2="193.75" stroke="#222" stroke-width="1"/>
<line x1="45.35" y1="126.25" x2="46.75" y2="126.25" stroke="#222" stroke-width="0.7"/>
<text x="44.75" y="128.01" font-family="Liberation Sans" font-size="4.9" font-weight="bold" text-anchor="end" fill="#333" stroke="#333" stroke-width="0.22" >15.0</text>
<line x1="45.35" y1="137.50" x2="46.75" y2="137.50" stroke="#222" stroke-width="0.7"/>
<text x="44.75" y="139.26" font-family="Liberation Sans" font-size="4.9" font-weight="bold" text-anchor="end" fill="#333" stroke="#333" stroke-width="0.22" >12.5</text>
<line x1="45.35" y1="148.75" x2="46.75" y2="148.75" stroke="#222" stroke-width="0.7"/>
<text x="44.75" y="150.51" font-family="Liberation Sans" font-size="4.9" font-weight="bold" text-anchor="end" fill="#333" stroke="#333" stroke-width="0.22" >10.0</text>
<line x1="45.35" y1="160.00" x2="46.75" y2="160.00" stroke="#222" stroke-width="0.7"/>
<text x="44.75" y="161.76" font-family="Liberation Sans" font-size="4.9" font-weight="bold" text-anchor="end" fill="#333" stroke="#333" stroke-width="0.22" >7.5</text>
<line x1="45.35" y1="171.25" x2="46.75" y2="171.25" stroke="#222" stroke-width="0.7"/>
<text x="44.75" y="173.01" font-family="Liberation Sans" font-size="4.9" font-weight="bold" text-anchor="end" fill="#333" stroke="#333" stroke-width="0.22" >5.0</text>
<line x1="45.35" y1="182.50" x2="46.75" y2="182.50" stroke="#222" stroke-width="0.7"/>
<text x="44.75" y="184.26" font-family="Liberation Sans" font-size="4.9" font-weight="bold" text-anchor="end" fill="#333" stroke="#333" stroke-width="0.22" >2.5</text>
<line x1="45.35" y1="193.75" x2="46.75" y2="193.75" stroke="#222" stroke-width="0.7"/>
<text x="44.75" y="195.51" font-family="Liberation Sans" font-size="4.9" font-weight="bold" text-anchor="end" fill="#333" stroke="#333" stroke-width="0.22" >0.0</text>
<text x="51.60" y="201.25" font-family="Liberation Sans" font-size="4.9" font-weight="bold" text-anchor="middle" fill="#2a2a2a" stroke="#2a2a2a" stroke-width="0.22" >Ctl</text>
<text x="59.58" y="201.25" font-family="Liberation Sans" font-size="4.9" font-weight="bold" text-anchor="middle" fill="#2a2a2a" stroke="#2a2a2a" stroke-width="0.22" >3</text>
<text x="67.56" y="201.25" font-family="Liberation Sans" font-size="4.9" font-weight="bold" text-anchor="middle" fill="#2a2a2a" stroke="#2a2a2a" stroke-width="0.22" >10</text>
<text x="75.54" y="201.25" font-family="Liberation Sans" font-size="4.9" font-weight="bold" text-anchor="middle" fill="#2a2a2a" stroke="#2a2a2a" stroke-width="0.22" >14</text>
<text x="83.52" y="201.25" font-family="Liberation Sans" font-size="4.9" font-weight="bold" text-anchor="middle" fill="#2a2a2a" stroke="#2a2a2a" stroke-width="0.22" >28</text>
<text x="91.50" y="201.25" font-family="Liberation Sans" font-size="4.9" font-weight="bold" text-anchor="middle" fill="#2a2a2a" stroke="#2a2a2a" stroke-width="0.22" >3</text>
<text x="99.48" y="201.25" font-family="Liberation Sans" font-size="4.9" font-weight="bold" text-anchor="middle" fill="#2a2a2a" stroke="#2a2a2a" stroke-width="0.22" >10</text>
<text x="107.46" y="201.25" font-family="Liberation Sans" font-size="4.9" font-weight="bold" text-anchor="middle" fill="#2a2a2a" stroke="#2a2a2a" stroke-width="0.22" >14</text>
<text x="115.44" y="201.25" font-family="Liberation Sans" font-size="4.9" font-weight="bold" text-anchor="middle" fill="#2a2a2a" stroke="#2a2a2a" stroke-width="0.22" >28</text>
<text x="123.42" y="201.25" font-family="Liberation Sans" font-size="4.9" font-weight="bold" text-anchor="middle" fill="#2a2a2a" stroke="#2a2a2a" stroke-width="0.22" >3</text>
<text x="131.40" y="201.25" font-family="Liberation Sans" font-size="4.9" font-weight="bold" text-anchor="middle" fill="#2a2a2a" stroke="#2a2a2a" stroke-width="0.22" >10</text>
<text x="139.38" y="201.25" font-family="Liberation Sans" font-size="4.9" font-weight="bold" text-anchor="middle" fill="#2a2a2a" stroke="#2a2a2a" stroke-width="0.22" >14</text>
<text x="147.36" y="201.25" font-family="Liberation Sans" font-size="4.9" font-weight="bold" text-anchor="middle" fill="#2a2a2a" stroke="#2a2a2a" stroke-width="0.22" >28</text>
<text x="100.00" y="206.25" font-family="Liberation Sans" font-size="5.0" font-weight="bold" text-anchor="middle" fill="#2a2a2a" stroke="#2a2a2a" stroke-width="0.22" >Time (days)</text>
<line x1="53.75" y1="209.5" x2="83.75" y2="209.5" stroke="#3c4da6" stroke-width="2.0"/>
<line x1="86.25" y1="209.5" x2="116.25" y2="209.5" stroke="#df232a" stroke-width="2.0"/>
<line x1="118.75" y1="209.5" x2="150" y2="209.5" stroke="#7a4ba3" stroke-width="2.0"/>
<text x="66.00" y="218.20" font-family="Liberation Sans" font-size="6.6" font-weight="bold" text-anchor="middle" fill="#222" stroke="#222" stroke-width="0.22" >αCD25</text>
<text x="99.60" y="218.20" font-family="Liberation Sans" font-size="6.6" font-weight="bold" text-anchor="middle" fill="#222" stroke="#222" stroke-width="0.22" >IL7</text>
<text x="132.00" y="218.20" font-family="Liberation Sans" font-size="6.6" font-weight="bold" text-anchor="middle" fill="#222" stroke="#222" stroke-width="0.22" >αCD25+IL7</text>
<g transform="translate(25.2,157.3) rotate(-90)"><text x="0" y="0" font-family="Liberation Sans" font-size="6.7" font-weight="bold" text-anchor="middle" fill="#222">CD4+<tspan font-style="italic">FOXP3</tspan>+</text><text x="0" y="7.6" font-family="Liberation Sans" font-size="6.2" font-weight="bold" text-anchor="middle" fill="#222">LN cells (x10<tspan font-size="4.2" dy="-2.2">4</tspan><tspan dy="2.2">)</tspan></text></g>
<rect x="203.00" y="180.50" width="5.2" height="13.25" fill="#141414"/>
<line x1="205.60" y1="179.30" x2="205.60" y2="180.50" stroke="#141414" stroke-width="0.8"/>
<line x1="204.10" y1="179.30" x2="207.10" y2="179.30" stroke="#141414" stroke-width="0.8"/>
<line x1="205.60" y1="193.75" x2="205.60" y2="195.95" stroke="#222" stroke-width="0.65"/>
<rect x="210.85" y="187.50" width="5.2" height="6.25" fill="#3c4da6"/>
<line x1="213.45" y1="186.50" x2="213.45" y2="187.50" stroke="#3c4da6" stroke-width="0.8"/>
<line x1="211.95" y1="186.50" x2="214.95" y2="186.50" stroke="#3c4da6" stroke-width="0.8"/>
<text x="213.45" y="188.10" font-family="Liberation Sans" font-size="4.8" font-weight="bold" text-anchor="middle" fill="#8a94c8">*</text>
<text x="213.45" y="185.90" font-family="Liberation Sans" font-size="4.8" font-weight="bold" text-anchor="middle" fill="#8a94c8">*</text>
<line x1="213.45" y1="193.75" x2="213.45" y2="195.95" stroke="#222" stroke-width="0.65"/>
<rect x="218.70" y="187.50" width="5.2" height="6.25" fill="#3c4da6"/>
<line x1="221.30" y1="186.50" x2="221.30" y2="187.50" stroke="#3c4da6" stroke-width="0.8"/>
<line x1="219.80" y1="186.50" x2="222.80" y2="186.50" stroke="#3c4da6" stroke-width="0.8"/>
<text x="221.30" y="188.10" font-family="Liberation Sans" font-size="4.8" font-weight="bold" text-anchor="middle" fill="#8a94c8">*</text>
<text x="221.30" y="185.90" font-family="Liberation Sans" font-size="4.8" font-weight="bold" text-anchor="middle" fill="#8a94c8">*</text>
<line x1="221.30" y1="193.75" x2="221.30" y2="195.95" stroke="#222" stroke-width="0.65"/>
<rect x="226.55" y="185.00" width="5.2" height="8.75" fill="#3c4da6"/>
<line x1="229.15" y1="184.00" x2="229.15" y2="185.00" stroke="#3c4da6" stroke-width="0.8"/>
<line x1="227.65" y1="184.00" x2="230.65" y2="184.00" stroke="#3c4da6" stroke-width="0.8"/>
<text x="229.15" y="185.60" font-family="Liberation Sans" font-size="4.8" font-weight="bold" text-anchor="middle" fill="#8a94c8">*</text>
<text x="229.15" y="183.40" font-family="Liberation Sans" font-size="4.8" font-weight="bold" text-anchor="middle" fill="#8a94c8">*</text>
<line x1="229.15" y1="193.75" x2="229.15" y2="195.95" stroke="#222" stroke-width="0.65"/>
<rect x="234.40" y="179.50" width="5.2" height="14.25" fill="#3c4da6"/>
<line x1="237.00" y1="177.00" x2="237.00" y2="179.50" stroke="#3c4da6" stroke-width="0.8"/>
<line x1="235.50" y1="177.00" x2="238.50" y2="177.00" stroke="#3c4da6" stroke-width="0.8"/>
<line x1="237.00" y1="193.75" x2="237.00" y2="195.95" stroke="#222" stroke-width="0.65"/>
<rect x="242.25" y="180.50" width="5.2" height="13.25" fill="#df232a"/>
<line x1="244.85" y1="179.50" x2="244.85" y2="180.50" stroke="#df232a" stroke-width="0.8"/>
<line x1="243.35" y1="179.50" x2="246.35" y2="179.50" stroke="#df232a" stroke-width="0.8"/>
<line x1="244.85" y1="193.75" x2="244.85" y2="195.95" stroke="#222" stroke-width="0.65"/>
<rect x="250.10" y="183.00" width="5.2" height="10.75" fill="#df232a"/>
<line x1="252.70" y1="182.00" x2="252.70" y2="183.00" stroke="#df232a" stroke-width="0.8"/>
<line x1="251.20" y1="182.00" x2="254.20" y2="182.00" stroke="#df232a" stroke-width="0.8"/>
<line x1="252.70" y1="193.75" x2="252.70" y2="195.95" stroke="#222" stroke-width="0.65"/>
<rect x="257.95" y="176.25" width="5.2" height="17.50" fill="#df232a"/>
<line x1="260.55" y1="175.05" x2="260.55" y2="176.25" stroke="#df232a" stroke-width="0.8"/>
<line x1="259.05" y1="175.05" x2="262.05" y2="175.05" stroke="#df232a" stroke-width="0.8"/>
<line x1="260.55" y1="193.75" x2="260.55" y2="195.95" stroke="#222" stroke-width="0.65"/>
<rect x="265.80" y="175.00" width="5.2" height="18.75" fill="#df232a"/>
<line x1="268.40" y1="171.00" x2="268.40" y2="175.00" stroke="#df232a" stroke-width="0.8"/>
<line x1="266.90" y1="171.00" x2="269.90" y2="171.00" stroke="#df232a" stroke-width="0.8"/>
<line x1="268.40" y1="193.75" x2="268.40" y2="195.95" stroke="#222" stroke-width="0.65"/>
<rect x="273.65" y="187.00" width="5.2" height="6.75" fill="#7a4ba3"/>
<line x1="276.25" y1="185.50" x2="276.25" y2="187.00" stroke="#7a4ba3" stroke-width="0.8"/>
<line x1="274.75" y1="185.50" x2="277.75" y2="185.50" stroke="#7a4ba3" stroke-width="0.8"/>
<text x="276.25" y="187.10" font-family="Liberation Sans" font-size="4.8" font-weight="bold" text-anchor="middle" fill="#b49ac8">*</text>
<line x1="276.25" y1="193.75" x2="276.25" y2="195.95" stroke="#222" stroke-width="0.65"/>
<rect x="281.50" y="183.75" width="5.2" height="10.00" fill="#7a4ba3"/>
<line x1="284.10" y1="182.25" x2="284.10" y2="183.75" stroke="#7a4ba3" stroke-width="0.8"/>
<line x1="282.60" y1="182.25" x2="285.60" y2="182.25" stroke="#7a4ba3" stroke-width="0.8"/>
<line x1="284.10" y1="193.75" x2="284.10" y2="195.95" stroke="#222" stroke-width="0.65"/>
<rect x="289.35" y="179.50" width="5.2" height="14.25" fill="#7a4ba3"/>
<line x1="291.95" y1="177.50" x2="291.95" y2="179.50" stroke="#7a4ba3" stroke-width="0.8"/>
<line x1="290.45" y1="177.50" x2="293.45" y2="177.50" stroke="#7a4ba3" stroke-width="0.8"/>
<line x1="291.95" y1="193.75" x2="291.95" y2="195.95" stroke="#222" stroke-width="0.65"/>
<rect x="297.20" y="174.50" width="5.2" height="19.25" fill="#7a4ba3"/>
<line x1="299.80" y1="172.00" x2="299.80" y2="174.50" stroke="#7a4ba3" stroke-width="0.8"/>
<line x1="298.30" y1="172.00" x2="301.30" y2="172.00" stroke="#7a4ba3" stroke-width="0.8"/>
<line x1="299.80" y1="193.75" x2="299.80" y2="195.95" stroke="#222" stroke-width="0.65"/>
<line x1="201.25" y1="126.2" x2="201.25" y2="194.25" stroke="#222" stroke-width="0.9"/>
<line x1="200.85" y1="193.75" x2="304" y2="193.75" stroke="#222" stroke-width="1"/>
<line x1="199.85" y1="126.25" x2="201.25" y2="126.25" stroke="#222" stroke-width="0.7"/>
<text x="199.25" y="128.01" font-family="Liberation Sans" font-size="4.9" font-weight="bold" text-anchor="end" fill="#333" stroke="#333" stroke-width="0.22" >15.0</text>
<line x1="199.85" y1="137.50" x2="201.25" y2="137.50" stroke="#222" stroke-width="0.7"/>
<text x="199.25" y="139.26" font-family="Liberation Sans" font-size="4.9" font-weight="bold" text-anchor="end" fill="#333" stroke="#333" stroke-width="0.22" >12.5</text>
<line x1="199.85" y1="148.75" x2="201.25" y2="148.75" stroke="#222" stroke-width="0.7"/>
<text x="199.25" y="150.51" font-family="Liberation Sans" font-size="4.9" font-weight="bold" text-anchor="end" fill="#333" stroke="#333" stroke-width="0.22" >10.0</text>
<line x1="199.85" y1="160.00" x2="201.25" y2="160.00" stroke="#222" stroke-width="0.7"/>
<text x="199.25" y="161.76" font-family="Liberation Sans" font-size="4.9" font-weight="bold" text-anchor="end" fill="#333" stroke="#333" stroke-width="0.22" >7.5</text>
<line x1="199.85" y1="171.25" x2="201.25" y2="171.25" stroke="#222" stroke-width="0.7"/>
<text x="199.25" y="173.01" font-family="Liberation Sans" font-size="4.9" font-weight="bold" text-anchor="end" fill="#333" stroke="#333" stroke-width="0.22" >5.0</text>
<line x1="199.85" y1="182.50" x2="201.25" y2="182.50" stroke="#222" stroke-width="0.7"/>
<text x="199.25" y="184.26" font-family="Liberation Sans" font-size="4.9" font-weight="bold" text-anchor="end" fill="#333" stroke="#333" stroke-width="0.22" >2.5</text>
<line x1="199.85" y1="193.75" x2="201.25" y2="193.75" stroke="#222" stroke-width="0.7"/>
<text x="199.25" y="195.51" font-family="Liberation Sans" font-size="4.9" font-weight="bold" text-anchor="end" fill="#333" stroke="#333" stroke-width="0.22" >0.0</text>
<text x="205.60" y="200.50" font-family="Liberation Sans" font-size="4.9" font-weight="bold" text-anchor="middle" fill="#2a2a2a" stroke="#2a2a2a" stroke-width="0.22" >Ctl</text>
<text x="213.45" y="200.50" font-family="Liberation Sans" font-size="4.9" font-weight="bold" text-anchor="middle" fill="#2a2a2a" stroke="#2a2a2a" stroke-width="0.22" >3</text>
<text x="221.30" y="200.50" font-family="Liberation Sans" font-size="4.9" font-weight="bold" text-anchor="middle" fill="#2a2a2a" stroke="#2a2a2a" stroke-width="0.22" >10</text>
<text x="229.15" y="200.50" font-family="Liberation Sans" font-size="4.9" font-weight="bold" text-anchor="middle" fill="#2a2a2a" stroke="#2a2a2a" stroke-width="0.22" >14</text>
<text x="237.00" y="200.50" font-family="Liberation Sans" font-size="4.9" font-weight="bold" text-anchor="middle" fill="#2a2a2a" stroke="#2a2a2a" stroke-width="0.22" >28</text>
<text x="244.85" y="200.50" font-family="Liberation Sans" font-size="4.9" font-weight="bold" text-anchor="middle" fill="#2a2a2a" stroke="#2a2a2a" stroke-width="0.22" >3</text>
<text x="252.70" y="200.50" font-family="Liberation Sans" font-size="4.9" font-weight="bold" text-anchor="middle" fill="#2a2a2a" stroke="#2a2a2a" stroke-width="0.22" >10</text>
<text x="260.55" y="200.50" font-family="Liberation Sans" font-size="4.9" font-weight="bold" text-anchor="middle" fill="#2a2a2a" stroke="#2a2a2a" stroke-width="0.22" >14</text>
<text x="268.40" y="200.50" font-family="Liberation Sans" font-size="4.9" font-weight="bold" text-anchor="middle" fill="#2a2a2a" stroke="#2a2a2a" stroke-width="0.22" >28</text>
<text x="276.25" y="200.50" font-family="Liberation Sans" font-size="4.9" font-weight="bold" text-anchor="middle" fill="#2a2a2a" stroke="#2a2a2a" stroke-width="0.22" >3</text>
<text x="284.10" y="200.50" font-family="Liberation Sans" font-size="4.9" font-weight="bold" text-anchor="middle" fill="#2a2a2a" stroke="#2a2a2a" stroke-width="0.22" >10</text>
<text x="291.95" y="200.50" font-family="Liberation Sans" font-size="4.9" font-weight="bold" text-anchor="middle" fill="#2a2a2a" stroke="#2a2a2a" stroke-width="0.22" >14</text>
<text x="299.80" y="200.50" font-family="Liberation Sans" font-size="4.9" font-weight="bold" text-anchor="middle" fill="#2a2a2a" stroke="#2a2a2a" stroke-width="0.22" >28</text>
<text x="258.00" y="205.50" font-family="Liberation Sans" font-size="5.0" font-weight="bold" text-anchor="middle" fill="#2a2a2a" stroke="#2a2a2a" stroke-width="0.22" >Time (days)</text>
<line x1="211" y1="209.9" x2="241" y2="209.9" stroke="#3c4da6" stroke-width="2.0"/>
<line x1="244" y1="209.9" x2="274" y2="209.9" stroke="#df232a" stroke-width="2.0"/>
<line x1="276" y1="209.9" x2="306" y2="209.9" stroke="#7a4ba3" stroke-width="2.0"/>
<text x="222.50" y="218.65" font-family="Liberation Sans" font-size="6.6" font-weight="bold" text-anchor="middle" fill="#222" stroke="#222" stroke-width="0.22" >αCD25</text>
<text x="257.50" y="218.65" font-family="Liberation Sans" font-size="6.6" font-weight="bold" text-anchor="middle" fill="#222" stroke="#222" stroke-width="0.22" >IL7</text>
<text x="290.50" y="218.65" font-family="Liberation Sans" font-size="6.6" font-weight="bold" text-anchor="middle" fill="#222" stroke="#222" stroke-width="0.22" >αCD25+IL7</text>
<g transform="translate(180.5,157.3) rotate(-90)"><text x="0" y="0" font-family="Liberation Sans" font-size="6.7" font-weight="bold" text-anchor="middle" fill="#222">CD4+<tspan font-style="italic">FOXP3</tspan>+</text><text x="0" y="7.6" font-family="Liberation Sans" font-size="6.2" font-weight="bold" text-anchor="middle" fill="#222">LN cells (x10<tspan font-size="4.2" dy="-2.2">4</tspan><tspan dy="2.2">)</tspan></text></g>
<text x="49.50" y="243.40" font-family="Liberation Sans" font-size="6.6" font-weight="bold" text-anchor="middle" fill="#1a1a1a" stroke="#1a1a1a" stroke-width="0.22" >Day 0</text>
<text x="102.50" y="243.40" font-family="Liberation Sans" font-size="6.6" font-weight="bold" text-anchor="middle" fill="#1a1a1a" stroke="#1a1a1a" stroke-width="0.22" >Day 10</text>
<text x="153.20" y="243.40" font-family="Liberation Sans" font-size="6.6" font-weight="bold" text-anchor="middle" fill="#1a1a1a" stroke="#1a1a1a" stroke-width="0.22" >Day 28</text>
<rect x="26.2" y="245.6" width="49.40" height="46.20" fill="none" stroke="#c4c4c4" stroke-width="0.9"/>
<line x1="25.0" y1="291.80" x2="26.2" y2="291.80" stroke="#bbb" stroke-width="0.5"/>
<rect x="22.20" y="291.10" width="2.6" height="1.3" fill="#d6d6d6"/>
<line x1="25.0" y1="276.40" x2="26.2" y2="276.40" stroke="#bbb" stroke-width="0.5"/>
<rect x="22.20" y="275.70" width="2.6" height="1.3" fill="#d6d6d6"/>
<line x1="25.0" y1="261.00" x2="26.2" y2="261.00" stroke="#bbb" stroke-width="0.5"/>
<rect x="22.20" y="260.30" width="2.6" height="1.3" fill="#d6d6d6"/>
<line x1="25.0" y1="245.60" x2="26.2" y2="245.60" stroke="#bbb" stroke-width="0.5"/>
<rect x="22.20" y="244.90" width="2.6" height="1.3" fill="#d6d6d6"/>
<line x1="26.20" y1="291.8" x2="26.20" y2="293.0" stroke="#bbb" stroke-width="0.5"/>
<rect x="24.90" y="294.60" width="2.6" height="1.3" fill="#d6d6d6"/>
<line x1="38.55" y1="291.8" x2="38.55" y2="293.0" stroke="#bbb" stroke-width="0.5"/>
<rect x="37.25" y="294.60" width="2.6" height="1.3" fill="#d6d6d6"/>
<line x1="50.90" y1="291.8" x2="50.90" y2="293.0" stroke="#bbb" stroke-width="0.5"/>
<rect x="49.60" y="294.60" width="2.6" height="1.3" fill="#d6d6d6"/>
<line x1="63.25" y1="291.8" x2="63.25" y2="293.0" stroke="#bbb" stroke-width="0.5"/>
<rect x="61.95" y="294.60" width="2.6" height="1.3" fill="#d6d6d6"/>
<line x1="75.60" y1="291.8" x2="75.60" y2="293.0" stroke="#bbb" stroke-width="0.5"/>
<rect x="74.30" y="294.60" width="2.6" height="1.3" fill="#d6d6d6"/>
<path d="M38.50,266.90 C38.69,265.53 39.06,263.95 40.71,263.20 C42.37,262.45 45.87,262.45 48.45,262.40 C51.03,262.35 54.34,262.15 56.19,262.90 C58.03,263.65 59.32,265.40 59.50,266.90 C59.68,268.40 58.39,270.98 57.29,271.90 C56.19,272.82 54.34,272.90 52.87,272.40 C51.40,271.90 49.92,268.90 48.45,268.90 C46.98,268.90 45.50,271.98 44.03,272.40 C42.56,272.82 40.53,272.32 39.61,271.40 C38.69,270.48 38.32,268.27 38.50,266.90Z" fill="#f2f2f2" stroke="#8a8a8a" stroke-width="0.7"/><path d="M40.49,267.00 C40.64,265.91 40.94,264.64 42.26,264.04 C43.59,263.44 46.39,263.44 48.45,263.40 C50.51,263.36 53.16,263.20 54.64,263.80 C56.11,264.40 57.14,265.80 57.29,267.00 C57.44,268.20 56.41,270.27 55.52,271.00 C54.64,271.73 53.16,271.80 51.99,271.40 C50.81,271.00 49.63,268.60 48.45,268.60 C47.27,268.60 46.09,271.07 44.91,271.40 C43.74,271.73 42.11,271.33 41.38,270.60 C40.64,269.87 40.35,268.09 40.49,267.00Z" fill="#e8e8e8" stroke="#848484" stroke-width="0.7"/><path d="M42.48,267.10 C42.59,266.28 42.81,265.33 43.81,264.88 C44.80,264.43 46.90,264.43 48.45,264.40 C50.00,264.37 51.99,264.25 53.09,264.70 C54.20,265.15 54.97,266.20 55.08,267.10 C55.19,268.00 54.42,269.55 53.75,270.10 C53.09,270.65 51.99,270.70 51.10,270.40 C50.22,270.10 49.33,268.30 48.45,268.30 C47.57,268.30 46.68,270.15 45.80,270.40 C44.91,270.65 43.70,270.35 43.15,269.80 C42.59,269.25 42.37,267.92 42.48,267.10Z" fill="#dedede" stroke="#7c7c7c" stroke-width="0.7"/><path d="M44.47,267.20 C44.55,266.65 44.69,266.02 45.36,265.72 C46.02,265.42 47.42,265.42 48.45,265.40 C49.48,265.38 50.81,265.30 51.54,265.60 C52.28,265.90 52.80,266.60 52.87,267.20 C52.94,267.80 52.43,268.83 51.99,269.20 C51.54,269.57 50.81,269.60 50.22,269.40 C49.63,269.20 49.04,268.00 48.45,268.00 C47.86,268.00 47.27,269.23 46.68,269.40 C46.09,269.57 45.28,269.37 44.91,269.00 C44.55,268.63 44.40,267.75 44.47,267.20Z" fill="#d4d4d4" stroke="#747474" stroke-width="0.7"/>
<path d="M33.00,277.32 C33.67,276.22 38.18,275.88 41.10,275.33 C44.02,274.78 47.85,274.04 50.55,274.00 C53.25,273.96 55.72,274.07 57.30,275.06 C58.88,276.06 60.00,278.17 60.00,279.99 C60.00,281.80 58.88,284.75 57.30,285.97 C55.72,287.19 53.02,287.41 50.55,287.30 C48.07,287.19 44.70,286.19 42.45,285.31 C40.20,284.42 38.62,283.31 37.05,281.98 C35.47,280.65 32.33,278.43 33.00,277.32Z" fill="#dcdcdc" stroke="#747474" stroke-width="0.7"/><path d="M37.25,278.12 C37.76,277.29 41.13,277.04 43.33,276.62 C45.52,276.21 48.39,275.66 50.41,275.62 C52.44,275.59 54.29,275.67 55.47,276.42 C56.66,277.17 57.50,278.75 57.50,280.11 C57.50,281.48 56.66,283.69 55.47,284.60 C54.29,285.52 52.27,285.68 50.41,285.60 C48.56,285.52 46.03,284.77 44.34,284.10 C42.65,283.44 41.47,282.61 40.29,281.61 C39.11,280.61 36.74,278.95 37.25,278.12Z" fill="#c8c8c8" stroke="#686868" stroke-width="0.7"/><path d="M41.50,278.91 C41.84,278.36 44.09,278.19 45.55,277.91 C47.01,277.64 48.92,277.27 50.27,277.25 C51.62,277.23 52.86,277.28 53.65,277.78 C54.44,278.28 55.00,279.33 55.00,280.24 C55.00,281.15 54.44,282.63 53.65,283.24 C52.86,283.84 51.51,283.96 50.27,283.90 C49.04,283.84 47.35,283.35 46.23,282.90 C45.10,282.46 44.31,281.91 43.52,281.24 C42.74,280.57 41.16,279.47 41.50,278.91Z" fill="#b4b4b4" stroke="#5c5c5c" stroke-width="0.7"/><ellipse cx="52.50" cy="280.40" rx="4.20" ry="3.60" fill="#a8a8a8" stroke="#4a4a4a" stroke-width="0.7"/><ellipse cx="52.50" cy="280.40" rx="3.15" ry="2.70" fill="#7a7a7a" stroke="#333333" stroke-width="0.7"/><ellipse cx="52.50" cy="280.40" rx="2.10" ry="1.80" fill="#585858" stroke="#262626" stroke-width="0.7"/><ellipse cx="52.50" cy="280.40" rx="1.05" ry="0.90" fill="#8c8c8c"/>
<line x1="45.8" y1="245.6" x2="45.8" y2="291.8" stroke="#c2c4e0" stroke-width="0.8"/>
<line x1="26.2" y1="272.8" x2="75.6" y2="272.8" stroke="#c2c4e0" stroke-width="0.8"/>
<text x="27.40" y="250.00" font-family="Liberation Sans" font-size="4.7" font-weight="bold" text-anchor="start" fill="#222" stroke="#222" stroke-width="0.2" textLength="5.62" lengthAdjust="spacingAndGlyphs">4.6</text>
<text x="74.60" y="250.00" font-family="Liberation Sans" font-size="4.7" font-weight="bold" text-anchor="end" fill="#222" stroke="#222" stroke-width="0.2" textLength="5.62" lengthAdjust="spacingAndGlyphs">8.0</text>
<text x="28.00" y="290.20" font-family="Liberation Sans" font-size="4.7" font-weight="bold" text-anchor="start" fill="#222" stroke="#222" stroke-width="0.2" textLength="7.88" lengthAdjust="spacingAndGlyphs">15.8</text>
<text x="74.60" y="290.20" font-family="Liberation Sans" font-size="4.7" font-weight="bold" text-anchor="end" fill="#222" stroke="#222" stroke-width="0.2" textLength="4.50" lengthAdjust="spacingAndGlyphs">76</text>
<rect x="78.2" y="245.6" width="49.50" height="45.90" fill="none" stroke="#c4c4c4" stroke-width="0.9"/>
<line x1="77.0" y1="291.50" x2="78.2" y2="291.50" stroke="#bbb" stroke-width="0.5"/>
<rect x="74.20" y="290.80" width="2.6" height="1.3" fill="#d6d6d6"/>
<line x1="77.0" y1="276.20" x2="78.2" y2="276.20" stroke="#bbb" stroke-width="0.5"/>
<rect x="74.20" y="275.50" width="2.6" height="1.3" fill="#d6d6d6"/>
<line x1="77.0" y1="260.90" x2="78.2" y2="260.90" stroke="#bbb" stroke-width="0.5"/>
<rect x="74.20" y="260.20" width="2.6" height="1.3" fill="#d6d6d6"/>
<line x1="77.0" y1="245.60" x2="78.2" y2="245.60" stroke="#bbb" stroke-width="0.5"/>
<rect x="74.20" y="244.90" width="2.6" height="1.3" fill="#d6d6d6"/>
<line x1="78.20" y1="291.5" x2="78.20" y2="292.7" stroke="#bbb" stroke-width="0.5"/>
<rect x="76.90" y="294.30" width="2.6" height="1.3" fill="#d6d6d6"/>
<line x1="90.58" y1="291.5" x2="90.58" y2="292.7" stroke="#bbb" stroke-width="0.5"/>
<rect x="89.28" y="294.30" width="2.6" height="1.3" fill="#d6d6d6"/>
<line x1="102.95" y1="291.5" x2="102.95" y2="292.7" stroke="#bbb" stroke-width="0.5"/>
<rect x="101.65" y="294.30" width="2.6" height="1.3" fill="#d6d6d6"/>
<line x1="115.33" y1="291.5" x2="115.33" y2="292.7" stroke="#bbb" stroke-width="0.5"/>
<rect x="114.03" y="294.30" width="2.6" height="1.3" fill="#d6d6d6"/>
<line x1="127.70" y1="291.5" x2="127.70" y2="292.7" stroke="#bbb" stroke-width="0.5"/>
<rect x="126.40" y="294.30" width="2.6" height="1.3" fill="#d6d6d6"/>
<path d="M87.94,265.49 C88.05,264.21 88.27,262.74 89.23,262.04 C90.20,261.35 92.25,261.35 93.75,261.30 C95.25,261.25 97.19,261.07 98.27,261.76 C99.34,262.46 100.09,264.09 100.20,265.49 C100.31,266.88 99.55,269.28 98.91,270.14 C98.27,270.99 97.19,270.75 96.33,270.60 C95.47,270.45 94.61,269.21 93.75,269.21 C92.89,269.21 92.03,270.52 91.17,270.60 C90.31,270.68 89.13,270.52 88.59,269.67 C88.05,268.82 87.84,266.76 87.94,265.49Z" fill="#f2f2f2" stroke="#8a8a8a" stroke-width="0.7"/><path d="M90.27,265.67 C90.33,264.91 90.46,264.02 91.04,263.61 C91.62,263.19 92.85,263.19 93.75,263.16 C94.65,263.13 95.81,263.02 96.46,263.44 C97.10,263.86 97.56,264.83 97.62,265.67 C97.68,266.51 97.23,267.95 96.85,268.46 C96.46,268.97 95.81,268.83 95.30,268.74 C94.78,268.65 94.27,267.90 93.75,267.90 C93.23,267.90 92.72,268.69 92.20,268.74 C91.69,268.79 90.98,268.69 90.65,268.18 C90.33,267.67 90.20,266.43 90.27,265.67Z" fill="#e8e8e8" stroke="#848484" stroke-width="0.7"/>
<path d="M78.30,278.84 C79.14,277.79 84.74,275.90 88.38,275.06 C92.02,274.22 96.78,273.84 100.14,273.80 C103.50,273.76 106.58,273.86 108.54,274.81 C110.50,275.75 111.90,277.75 111.90,279.47 C111.90,281.19 110.50,283.99 108.54,285.14 C106.58,286.29 103.22,286.50 100.14,286.40 C97.06,286.29 92.86,285.35 90.06,284.51 C87.26,283.67 85.30,282.31 83.34,281.36 C81.38,280.42 77.46,279.89 78.30,278.84Z" fill="#dcdcdc" stroke="#747474" stroke-width="0.7"/><path d="M83.72,279.13 C84.35,278.34 88.55,276.93 91.28,276.30 C94.02,275.67 97.59,275.38 100.11,275.35 C102.62,275.32 104.94,275.40 106.41,276.11 C107.88,276.81 108.93,278.31 108.93,279.60 C108.93,280.89 107.88,282.99 106.41,283.86 C104.94,284.72 102.42,284.88 100.11,284.80 C97.80,284.72 94.65,284.01 92.55,283.38 C90.44,282.75 88.97,281.73 87.50,281.02 C86.03,280.31 83.09,279.92 83.72,279.13Z" fill="#c8c8c8" stroke="#686868" stroke-width="0.7"/><path d="M89.15,279.42 C89.57,278.89 92.37,277.95 94.19,277.53 C96.01,277.11 98.39,276.92 100.07,276.90 C101.75,276.88 103.29,276.93 104.27,277.40 C105.25,277.88 105.95,278.87 105.95,279.74 C105.95,280.60 105.25,281.99 104.27,282.57 C103.29,283.15 101.61,283.25 100.07,283.20 C98.53,283.15 96.43,282.68 95.03,282.25 C93.63,281.83 92.65,281.15 91.67,280.68 C90.69,280.21 88.73,279.94 89.15,279.42Z" fill="#b4b4b4" stroke="#5c5c5c" stroke-width="0.7"/><ellipse cx="102.20" cy="280.00" rx="5.00" ry="3.60" fill="#a8a8a8" stroke="#4a4a4a" stroke-width="0.7"/><ellipse cx="102.20" cy="280.00" rx="3.75" ry="2.70" fill="#7a7a7a" stroke="#333333" stroke-width="0.7"/><ellipse cx="102.20" cy="280.00" rx="2.50" ry="1.80" fill="#585858" stroke="#262626" stroke-width="0.7"/><ellipse cx="102.20" cy="280.00" rx="1.25" ry="0.90" fill="#8c8c8c"/>
<line x1="97.5" y1="245.6" x2="97.5" y2="291.5" stroke="#c2c4e0" stroke-width="0.8"/>
<line x1="78.2" y1="272.6" x2="127.7" y2="272.6" stroke="#c2c4e0" stroke-width="0.8"/>
<text x="79.40" y="250.00" font-family="Liberation Sans" font-size="4.7" font-weight="bold" text-anchor="start" fill="#222" stroke="#222" stroke-width="0.2" textLength="5.62" lengthAdjust="spacingAndGlyphs">3.8</text>
<text x="126.70" y="250.00" font-family="Liberation Sans" font-size="4.7" font-weight="bold" text-anchor="end" fill="#222" stroke="#222" stroke-width="0.2" textLength="5.62" lengthAdjust="spacingAndGlyphs">1.6</text>
<text x="80.00" y="289.90" font-family="Liberation Sans" font-size="4.7" font-weight="bold" text-anchor="start" fill="#222" stroke="#222" stroke-width="0.2" textLength="7.88" lengthAdjust="spacingAndGlyphs">20.2</text>
<text x="126.70" y="289.90" font-family="Liberation Sans" font-size="4.7" font-weight="bold" text-anchor="end" fill="#222" stroke="#222" stroke-width="0.2" textLength="7.88" lengthAdjust="spacingAndGlyphs">74.6</text>
<rect x="129.5" y="245.6" width="48.90" height="46.20" fill="none" stroke="#c4c4c4" stroke-width="0.9"/>
<line x1="128.3" y1="291.80" x2="129.5" y2="291.80" stroke="#bbb" stroke-width="0.5"/>
<rect x="125.50" y="291.10" width="2.6" height="1.3" fill="#d6d6d6"/>
<line x1="128.3" y1="276.40" x2="129.5" y2="276.40" stroke="#bbb" stroke-width="0.5"/>
<rect x="125.50" y="275.70" width="2.6" height="1.3" fill="#d6d6d6"/>
<line x1="128.3" y1="261.00" x2="129.5" y2="261.00" stroke="#bbb" stroke-width="0.5"/>
<rect x="125.50" y="260.30" width="2.6" height="1.3" fill="#d6d6d6"/>
<line x1="128.3" y1="245.60" x2="129.5" y2="245.60" stroke="#bbb" stroke-width="0.5"/>
<rect x="125.50" y="244.90" width="2.6" height="1.3" fill="#d6d6d6"/>
<line x1="129.50" y1="291.8" x2="129.50" y2="293.0" stroke="#bbb" stroke-width="0.5"/>
<rect x="128.20" y="294.60" width="2.6" height="1.3" fill="#d6d6d6"/>
<line x1="141.72" y1="291.8" x2="141.72" y2="293.0" stroke="#bbb" stroke-width="0.5"/>
<rect x="140.42" y="294.60" width="2.6" height="1.3" fill="#d6d6d6"/>
<line x1="153.95" y1="291.8" x2="153.95" y2="293.0" stroke="#bbb" stroke-width="0.5"/>
<rect x="152.65" y="294.60" width="2.6" height="1.3" fill="#d6d6d6"/>
<line x1="166.18" y1="291.8" x2="166.18" y2="293.0" stroke="#bbb" stroke-width="0.5"/>
<rect x="164.88" y="294.60" width="2.6" height="1.3" fill="#d6d6d6"/>
<line x1="178.40" y1="291.8" x2="178.40" y2="293.0" stroke="#bbb" stroke-width="0.5"/>
<rect x="177.10" y="294.60" width="2.6" height="1.3" fill="#d6d6d6"/>
<path d="M136.29,265.43 C136.54,263.99 137.04,262.33 139.27,261.54 C141.50,260.75 146.22,260.75 149.70,260.70 C153.18,260.65 157.65,260.44 160.13,261.22 C162.61,262.01 164.35,263.85 164.60,265.43 C164.85,267.00 163.11,269.71 161.62,270.68 C160.13,271.64 157.65,271.81 155.66,271.20 C153.67,270.59 151.69,267.00 149.70,267.00 C147.71,267.00 145.73,270.68 143.74,271.20 C141.75,271.72 139.02,271.11 137.78,270.15 C136.54,269.19 136.04,266.86 136.29,265.43Z" fill="#f2f2f2" stroke="#8a8a8a" stroke-width="0.7"/><path d="M139.87,265.56 C140.05,264.51 140.41,263.29 142.05,262.72 C143.69,262.14 147.15,262.14 149.70,262.10 C152.25,262.06 155.53,261.91 157.35,262.48 C159.17,263.06 160.44,264.41 160.63,265.56 C160.81,266.72 159.53,268.71 158.44,269.42 C157.35,270.12 155.53,270.25 154.07,269.80 C152.61,269.35 151.16,266.72 149.70,266.72 C148.24,266.72 146.79,269.42 145.33,269.80 C143.87,270.19 141.87,269.74 140.96,269.03 C140.05,268.32 139.68,266.62 139.87,265.56Z" fill="#e8e8e8" stroke="#848484" stroke-width="0.7"/><path d="M143.44,265.70 C143.56,265.04 143.79,264.26 144.83,263.89 C145.88,263.52 148.08,263.52 149.70,263.50 C151.32,263.48 153.41,263.38 154.57,263.75 C155.73,264.11 156.54,264.97 156.65,265.70 C156.77,266.44 155.96,267.71 155.26,268.15 C154.57,268.60 153.41,268.69 152.48,268.40 C151.55,268.11 150.63,266.44 149.70,266.44 C148.77,266.44 147.85,268.15 146.92,268.40 C145.99,268.64 144.72,268.36 144.14,267.91 C143.56,267.46 143.33,266.37 143.44,265.70Z" fill="#dedede" stroke="#7c7c7c" stroke-width="0.7"/>
<path d="M130.50,281.40 C131.35,280.28 137.04,277.16 140.73,276.04 C144.42,274.92 149.25,274.74 152.66,274.70 C156.07,274.66 159.20,274.77 161.19,275.77 C163.18,276.78 164.60,278.90 164.60,280.73 C164.60,282.56 163.18,285.53 161.19,286.76 C159.20,287.99 155.79,288.21 152.66,288.10 C149.54,287.99 145.28,286.98 142.44,286.09 C139.59,285.20 137.60,283.52 135.62,282.74 C133.63,281.96 129.65,282.52 130.50,281.40Z" fill="#dcdcdc" stroke="#747474" stroke-width="0.7"/><path d="M136.62,281.42 C137.26,280.59 141.53,278.24 144.30,277.40 C147.07,276.57 150.69,276.43 153.25,276.40 C155.81,276.37 158.15,276.45 159.64,277.20 C161.13,277.96 162.20,279.55 162.20,280.92 C162.20,282.30 161.13,284.52 159.64,285.44 C158.15,286.37 155.59,286.53 153.25,286.45 C150.90,286.37 147.71,285.61 145.58,284.94 C143.45,284.27 141.95,283.02 140.46,282.43 C138.97,281.84 135.99,282.26 136.62,281.42Z" fill="#c8c8c8" stroke="#686868" stroke-width="0.7"/><path d="M142.75,281.45 C143.18,280.89 146.02,279.33 147.87,278.77 C149.71,278.21 152.13,278.12 153.83,278.10 C155.54,278.08 157.10,278.13 158.09,278.64 C159.09,279.14 159.80,280.20 159.80,281.12 C159.80,282.03 159.09,283.52 158.09,284.13 C157.10,284.74 155.40,284.86 153.83,284.80 C152.27,284.74 150.14,284.24 148.72,283.80 C147.30,283.35 146.30,282.51 145.31,282.12 C144.31,281.73 142.32,282.01 142.75,281.45Z" fill="#b4b4b4" stroke="#5c5c5c" stroke-width="0.7"/><ellipse cx="160.00" cy="282.60" rx="4.00" ry="4.50" fill="#a8a8a8" stroke="#4a4a4a" stroke-width="0.7"/><ellipse cx="160.00" cy="282.60" rx="3.00" ry="3.38" fill="#7a7a7a" stroke="#333333" stroke-width="0.7"/><ellipse cx="160.00" cy="282.60" rx="2.00" ry="2.25" fill="#585858" stroke="#262626" stroke-width="0.7"/><ellipse cx="160.00" cy="282.60" rx="1.00" ry="1.12" fill="#8c8c8c"/>
<line x1="149.4" y1="245.6" x2="149.4" y2="291.8" stroke="#c2c4e0" stroke-width="0.8"/>
<line x1="129.5" y1="272.7" x2="178.4" y2="272.7" stroke="#c2c4e0" stroke-width="0.8"/>
<text x="130.70" y="250.00" font-family="Liberation Sans" font-size="4.7" font-weight="bold" text-anchor="start" fill="#222" stroke="#222" stroke-width="0.2" textLength="5.62" lengthAdjust="spacingAndGlyphs">4.3</text>
<text x="177.40" y="250.00" font-family="Liberation Sans" font-size="4.7" font-weight="bold" text-anchor="end" fill="#222" stroke="#222" stroke-width="0.2" textLength="5.62" lengthAdjust="spacingAndGlyphs">8.2</text>
<text x="131.30" y="290.20" font-family="Liberation Sans" font-size="4.7" font-weight="bold" text-anchor="start" fill="#222" stroke="#222" stroke-width="0.2" textLength="5.62" lengthAdjust="spacingAndGlyphs">6.6</text>
<text x="177.40" y="290.20" font-family="Liberation Sans" font-size="4.7" font-weight="bold" text-anchor="end" fill="#222" stroke="#222" stroke-width="0.2" textLength="7.88" lengthAdjust="spacingAndGlyphs">80.8</text>
<text transform="translate(21.2,273.2) rotate(-90)" font-family="Liberation Sans" font-size="8.2" font-weight="bold" font-style="italic" text-anchor="middle" fill="#1a1a1a">FOXP3</text>
<text x="222.60" y="241.60" font-family="Liberation Sans" font-size="6.6" font-weight="bold" text-anchor="middle" fill="#1a1a1a" stroke="#1a1a1a" stroke-width="0.22" >Day 0</text>
<text x="274.40" y="241.60" font-family="Liberation Sans" font-size="6.6" font-weight="bold" text-anchor="middle" fill="#1a1a1a" stroke="#1a1a1a" stroke-width="0.22" >Day 10</text>
<text x="324.50" y="241.60" font-family="Liberation Sans" font-size="6.6" font-weight="bold" text-anchor="middle" fill="#1a1a1a" stroke="#1a1a1a" stroke-width="0.22" >Day 28</text>
<rect x="200" y="243.8" width="48.40" height="47.50" fill="none" stroke="#c4c4c4" stroke-width="0.9"/>
<line x1="198.8" y1="291.30" x2="200" y2="291.30" stroke="#bbb" stroke-width="0.5"/>
<rect x="196.00" y="290.60" width="2.6" height="1.3" fill="#d6d6d6"/>
<line x1="198.8" y1="275.47" x2="200" y2="275.47" stroke="#bbb" stroke-width="0.5"/>
<rect x="196.00" y="274.77" width="2.6" height="1.3" fill="#d6d6d6"/>
<line x1="198.8" y1="259.63" x2="200" y2="259.63" stroke="#bbb" stroke-width="0.5"/>
<rect x="196.00" y="258.93" width="2.6" height="1.3" fill="#d6d6d6"/>
<line x1="198.8" y1="243.80" x2="200" y2="243.80" stroke="#bbb" stroke-width="0.5"/>
<rect x="196.00" y="243.10" width="2.6" height="1.3" fill="#d6d6d6"/>
<line x1="200.00" y1="291.3" x2="200.00" y2="292.5" stroke="#bbb" stroke-width="0.5"/>
<rect x="198.70" y="294.10" width="2.6" height="1.3" fill="#d6d6d6"/>
<line x1="212.10" y1="291.3" x2="212.10" y2="292.5" stroke="#bbb" stroke-width="0.5"/>
<rect x="210.80" y="294.10" width="2.6" height="1.3" fill="#d6d6d6"/>
<line x1="224.20" y1="291.3" x2="224.20" y2="292.5" stroke="#bbb" stroke-width="0.5"/>
<rect x="222.90" y="294.10" width="2.6" height="1.3" fill="#d6d6d6"/>
<line x1="236.30" y1="291.3" x2="236.30" y2="292.5" stroke="#bbb" stroke-width="0.5"/>
<rect x="235.00" y="294.10" width="2.6" height="1.3" fill="#d6d6d6"/>
<line x1="248.40" y1="291.3" x2="248.40" y2="292.5" stroke="#bbb" stroke-width="0.5"/>
<rect x="247.10" y="294.10" width="2.6" height="1.3" fill="#d6d6d6"/>
<path d="M207.87,265.20 C208.08,263.56 208.50,261.66 210.39,260.76 C212.29,259.86 216.30,259.86 219.25,259.80 C222.20,259.74 226.00,259.50 228.11,260.40 C230.21,261.30 231.69,263.40 231.90,265.20 C232.11,267.00 230.63,270.10 229.37,271.20 C228.11,272.30 226.00,272.40 224.31,271.80 C222.62,271.20 220.94,267.60 219.25,267.60 C217.56,267.60 215.88,271.30 214.19,271.80 C212.50,272.30 210.18,271.70 209.13,270.60 C208.08,269.50 207.65,266.84 207.87,265.20Z" fill="#f2f2f2" stroke="#8a8a8a" stroke-width="0.7"/><path d="M210.14,265.32 C210.31,264.01 210.65,262.49 212.17,261.77 C213.68,261.05 216.89,261.05 219.25,261.00 C221.61,260.95 224.65,260.76 226.33,261.48 C228.02,262.20 229.20,263.88 229.37,265.32 C229.54,266.76 228.36,269.24 227.35,270.12 C226.33,271.00 224.65,271.08 223.30,270.60 C221.95,270.12 220.60,267.24 219.25,267.24 C217.90,267.24 216.55,270.20 215.20,270.60 C213.85,271.00 212.00,270.52 211.15,269.64 C210.31,268.76 209.97,266.63 210.14,265.32Z" fill="#e8e8e8" stroke="#848484" stroke-width="0.7"/><path d="M212.42,265.44 C212.55,264.46 212.80,263.32 213.94,262.78 C215.08,262.24 217.48,262.24 219.25,262.20 C221.02,262.16 223.30,262.02 224.56,262.56 C225.83,263.10 226.71,264.36 226.84,265.44 C226.97,266.52 226.08,268.38 225.32,269.04 C224.56,269.70 223.30,269.76 222.29,269.40 C221.27,269.04 220.26,266.88 219.25,266.88 C218.24,266.88 217.23,269.10 216.21,269.40 C215.20,269.70 213.81,269.34 213.18,268.68 C212.55,268.02 212.29,266.42 212.42,265.44Z" fill="#dedede" stroke="#7c7c7c" stroke-width="0.7"/><path d="M214.70,265.56 C214.78,264.90 214.95,264.14 215.71,263.78 C216.47,263.42 218.07,263.42 219.25,263.40 C220.43,263.38 221.95,263.28 222.79,263.64 C223.64,264.00 224.23,264.84 224.31,265.56 C224.39,266.28 223.80,267.52 223.30,267.96 C222.79,268.40 221.95,268.44 221.27,268.20 C220.60,267.96 219.92,266.52 219.25,266.52 C218.58,266.52 217.90,268.00 217.23,268.20 C216.55,268.40 215.62,268.16 215.20,267.72 C214.78,267.28 214.61,266.22 214.70,265.56Z" fill="#d4d4d4" stroke="#747474" stroke-width="0.7"/>
<path d="M209.00,279.02 C209.59,278.02 213.50,276.21 216.05,275.40 C218.60,274.60 221.93,274.24 224.28,274.20 C226.62,274.16 228.78,274.26 230.15,275.16 C231.52,276.07 232.50,277.98 232.50,279.62 C232.50,281.27 231.52,283.94 230.15,285.05 C228.78,286.15 226.43,286.35 224.28,286.25 C222.12,286.15 219.18,285.25 217.22,284.44 C215.27,283.64 213.90,282.33 212.53,281.43 C211.15,280.53 208.41,280.02 209.00,279.02Z" fill="#dcdcdc" stroke="#747474" stroke-width="0.7"/><path d="M212.25,279.26 C212.69,278.51 215.63,277.16 217.54,276.55 C219.45,275.95 221.94,275.68 223.71,275.65 C225.47,275.62 227.08,275.70 228.11,276.37 C229.14,277.05 229.88,278.48 229.88,279.72 C229.88,280.95 229.14,282.96 228.11,283.78 C227.08,284.61 225.32,284.76 223.71,284.69 C222.09,284.61 219.89,283.93 218.42,283.33 C216.95,282.73 215.92,281.75 214.89,281.07 C213.87,280.39 211.81,280.02 212.25,279.26Z" fill="#c8c8c8" stroke="#686868" stroke-width="0.7"/><path d="M215.50,279.51 C215.79,279.01 217.75,278.10 219.03,277.70 C220.30,277.30 221.96,277.12 223.14,277.10 C224.31,277.08 225.39,277.13 226.07,277.58 C226.76,278.03 227.25,278.99 227.25,279.81 C227.25,280.63 226.76,281.97 226.07,282.52 C225.39,283.07 224.21,283.18 223.14,283.12 C222.06,283.07 220.59,282.62 219.61,282.22 C218.63,281.82 217.95,281.17 217.26,280.72 C216.58,280.26 215.21,280.01 215.50,279.51Z" fill="#b4b4b4" stroke="#5c5c5c" stroke-width="0.7"/><ellipse cx="226.00" cy="280.00" rx="6.00" ry="5.40" fill="#a8a8a8" stroke="#4a4a4a" stroke-width="0.7"/><ellipse cx="226.00" cy="280.00" rx="4.50" ry="4.05" fill="#7a7a7a" stroke="#333333" stroke-width="0.7"/><ellipse cx="226.00" cy="280.00" rx="3.00" ry="2.70" fill="#585858" stroke="#262626" stroke-width="0.7"/><ellipse cx="226.00" cy="280.00" rx="1.50" ry="1.35" fill="#8c8c8c"/>
<line x1="219.4" y1="243.8" x2="219.4" y2="291.3" stroke="#c2c4e0" stroke-width="0.8"/>
<line x1="200" y1="272.3" x2="248.4" y2="272.3" stroke="#c2c4e0" stroke-width="0.8"/>
<text x="201.20" y="248.20" font-family="Liberation Sans" font-size="4.7" font-weight="bold" text-anchor="start" fill="#222" stroke="#222" stroke-width="0.2" textLength="7.88" lengthAdjust="spacingAndGlyphs">12.6</text>
<text x="247.40" y="248.20" font-family="Liberation Sans" font-size="4.7" font-weight="bold" text-anchor="end" fill="#222" stroke="#222" stroke-width="0.2" textLength="5.62" lengthAdjust="spacingAndGlyphs">6.6</text>
<text x="201.80" y="289.70" font-family="Liberation Sans" font-size="4.7" font-weight="bold" text-anchor="start" fill="#222" stroke="#222" stroke-width="0.2" textLength="5.62" lengthAdjust="spacingAndGlyphs">6.5</text>
<text x="247.40" y="289.70" font-family="Liberation Sans" font-size="4.7" font-weight="bold" text-anchor="end" fill="#222" stroke="#222" stroke-width="0.2" textLength="7.88" lengthAdjust="spacingAndGlyphs">69.1</text>
<rect x="251.5" y="243.8" width="48.30" height="47.50" fill="none" stroke="#c4c4c4" stroke-width="0.9"/>
<line x1="250.3" y1="291.30" x2="251.5" y2="291.30" stroke="#bbb" stroke-width="0.5"/>
<rect x="247.50" y="290.60" width="2.6" height="1.3" fill="#d6d6d6"/>
<line x1="250.3" y1="275.47" x2="251.5" y2="275.47" stroke="#bbb" stroke-width="0.5"/>
<rect x="247.50" y="274.77" width="2.6" height="1.3" fill="#d6d6d6"/>
<line x1="250.3" y1="259.63" x2="251.5" y2="259.63" stroke="#bbb" stroke-width="0.5"/>
<rect x="247.50" y="258.93" width="2.6" height="1.3" fill="#d6d6d6"/>
<line x1="250.3" y1="243.80" x2="251.5" y2="243.80" stroke="#bbb" stroke-width="0.5"/>
<rect x="247.50" y="243.10" width="2.6" height="1.3" fill="#d6d6d6"/>
<line x1="251.50" y1="291.3" x2="251.50" y2="292.5" stroke="#bbb" stroke-width="0.5"/>
<rect x="250.20" y="294.10" width="2.6" height="1.3" fill="#d6d6d6"/>
<line x1="263.57" y1="291.3" x2="263.57" y2="292.5" stroke="#bbb" stroke-width="0.5"/>
<rect x="262.27" y="294.10" width="2.6" height="1.3" fill="#d6d6d6"/>
<line x1="275.65" y1="291.3" x2="275.65" y2="292.5" stroke="#bbb" stroke-width="0.5"/>
<rect x="274.35" y="294.10" width="2.6" height="1.3" fill="#d6d6d6"/>
<line x1="287.73" y1="291.3" x2="287.73" y2="292.5" stroke="#bbb" stroke-width="0.5"/>
<rect x="286.43" y="294.10" width="2.6" height="1.3" fill="#d6d6d6"/>
<line x1="299.80" y1="291.3" x2="299.80" y2="292.5" stroke="#bbb" stroke-width="0.5"/>
<rect x="298.50" y="294.10" width="2.6" height="1.3" fill="#d6d6d6"/>
<path d="M258.50,265.26 C258.65,263.78 258.95,262.07 260.30,261.26 C261.65,260.45 264.50,260.45 266.60,260.40 C268.70,260.35 271.40,260.13 272.90,260.94 C274.40,261.75 275.45,263.64 275.60,265.26 C275.75,266.88 274.70,269.67 273.80,270.66 C272.90,271.65 271.40,271.56 270.20,271.20 C269.00,270.84 267.80,268.50 266.60,268.50 C265.40,268.50 264.20,270.93 263.00,271.20 C261.80,271.47 260.15,271.11 259.40,270.12 C258.65,269.13 258.35,266.74 258.50,265.26Z" fill="#f2f2f2" stroke="#8a8a8a" stroke-width="0.7"/><path d="M260.66,265.40 C260.77,264.32 260.99,263.07 261.98,262.47 C262.97,261.88 265.06,261.88 266.60,261.84 C268.14,261.80 270.12,261.64 271.22,262.24 C272.32,262.83 273.09,264.22 273.20,265.40 C273.31,266.59 272.54,268.64 271.88,269.36 C271.22,270.09 270.12,270.02 269.24,269.76 C268.36,269.50 267.48,267.78 266.60,267.78 C265.72,267.78 264.84,269.56 263.96,269.76 C263.08,269.96 261.87,269.69 261.32,268.97 C260.77,268.24 260.55,266.49 260.66,265.40Z" fill="#e8e8e8" stroke="#848484" stroke-width="0.7"/><path d="M262.82,265.55 C262.89,264.86 263.03,264.06 263.66,263.68 C264.29,263.31 265.62,263.31 266.60,263.28 C267.58,263.25 268.84,263.15 269.54,263.53 C270.24,263.91 270.73,264.79 270.80,265.55 C270.87,266.30 270.38,267.61 269.96,268.07 C269.54,268.53 268.84,268.49 268.28,268.32 C267.72,268.15 267.16,267.06 266.60,267.06 C266.04,267.06 265.48,268.19 264.92,268.32 C264.36,268.45 263.59,268.28 263.24,267.82 C262.89,267.35 262.75,266.24 262.82,265.55Z" fill="#dedede" stroke="#7c7c7c" stroke-width="0.7"/>
<path d="M258.20,277.15 C258.86,276.07 263.28,274.66 266.15,273.90 C269.02,273.14 272.77,272.64 275.43,272.60 C278.08,272.56 280.50,272.67 282.05,273.64 C283.60,274.62 284.70,276.67 284.70,278.45 C284.70,280.23 283.60,283.11 282.05,284.30 C280.50,285.49 277.85,285.71 275.43,285.60 C273.00,285.49 269.68,284.52 267.47,283.65 C265.27,282.78 263.72,281.48 262.18,280.40 C260.63,279.32 257.54,278.23 258.20,277.15Z" fill="#dcdcdc" stroke="#747474" stroke-width="0.7"/><path d="M262.15,277.74 C262.65,276.93 265.96,275.87 268.11,275.30 C270.27,274.73 273.08,274.36 275.07,274.33 C277.06,274.29 278.88,274.37 280.04,275.11 C281.20,275.84 282.02,277.38 282.02,278.71 C282.02,280.05 281.20,282.21 280.04,283.10 C278.88,283.99 276.89,284.16 275.07,284.08 C273.25,283.99 270.76,283.26 269.11,282.61 C267.45,281.96 266.29,280.99 265.13,280.18 C263.97,279.36 261.65,278.55 262.15,277.74Z" fill="#c8c8c8" stroke="#686868" stroke-width="0.7"/><path d="M266.10,278.33 C266.43,277.78 268.64,277.08 270.07,276.70 C271.51,276.32 273.39,276.07 274.71,276.05 C276.04,276.03 277.25,276.08 278.02,276.57 C278.80,277.06 279.35,278.09 279.35,278.98 C279.35,279.86 278.80,281.30 278.02,281.90 C277.25,282.50 275.93,282.60 274.71,282.55 C273.50,282.50 271.84,282.01 270.74,281.58 C269.63,281.14 268.86,280.49 268.09,279.95 C267.31,279.41 265.77,278.87 266.10,278.33Z" fill="#b4b4b4" stroke="#5c5c5c" stroke-width="0.7"/><ellipse cx="278.00" cy="279.30" rx="5.40" ry="4.50" fill="#a8a8a8" stroke="#4a4a4a" stroke-width="0.7"/><ellipse cx="278.00" cy="279.30" rx="4.05" ry="3.38" fill="#7a7a7a" stroke="#333333" stroke-width="0.7"/><ellipse cx="278.00" cy="279.30" rx="2.70" ry="2.25" fill="#585858" stroke="#262626" stroke-width="0.7"/><ellipse cx="278.00" cy="279.30" rx="1.35" ry="1.12" fill="#8c8c8c"/>
<line x1="270.3" y1="243.8" x2="270.3" y2="291.3" stroke="#c2c4e0" stroke-width="0.8"/>
<line x1="251.5" y1="272.3" x2="299.8" y2="272.3" stroke="#c2c4e0" stroke-width="0.8"/>
<text x="252.70" y="248.20" font-family="Liberation Sans" font-size="4.7" font-weight="bold" text-anchor="start" fill="#222" stroke="#222" stroke-width="0.2" textLength="5.62" lengthAdjust="spacingAndGlyphs">9.2</text>
<text x="298.80" y="248.20" font-family="Liberation Sans" font-size="4.7" font-weight="bold" text-anchor="end" fill="#222" stroke="#222" stroke-width="0.2" textLength="5.62" lengthAdjust="spacingAndGlyphs">2.6</text>
<text x="253.30" y="289.70" font-family="Liberation Sans" font-size="4.7" font-weight="bold" text-anchor="start" fill="#222" stroke="#222" stroke-width="0.2" textLength="7.88" lengthAdjust="spacingAndGlyphs">11.1</text>
<text x="298.80" y="289.70" font-family="Liberation Sans" font-size="4.7" font-weight="bold" text-anchor="end" fill="#222" stroke="#222" stroke-width="0.2" textLength="7.88" lengthAdjust="spacingAndGlyphs">78.7</text>
<rect x="302" y="243.8" width="48.00" height="47.50" fill="none" stroke="#c4c4c4" stroke-width="0.9"/>
<line x1="300.8" y1="291.30" x2="302" y2="291.30" stroke="#bbb" stroke-width="0.5"/>
<rect x="298.00" y="290.60" width="2.6" height="1.3" fill="#d6d6d6"/>
<line x1="300.8" y1="275.47" x2="302" y2="275.47" stroke="#bbb" stroke-width="0.5"/>
<rect x="298.00" y="274.77" width="2.6" height="1.3" fill="#d6d6d6"/>
<line x1="300.8" y1="259.63" x2="302" y2="259.63" stroke="#bbb" stroke-width="0.5"/>
<rect x="298.00" y="258.93" width="2.6" height="1.3" fill="#d6d6d6"/>
<line x1="300.8" y1="243.80" x2="302" y2="243.80" stroke="#bbb" stroke-width="0.5"/>
<rect x="298.00" y="243.10" width="2.6" height="1.3" fill="#d6d6d6"/>
<line x1="302.00" y1="291.3" x2="302.00" y2="292.5" stroke="#bbb" stroke-width="0.5"/>
<rect x="300.70" y="294.10" width="2.6" height="1.3" fill="#d6d6d6"/>
<line x1="314.00" y1="291.3" x2="314.00" y2="292.5" stroke="#bbb" stroke-width="0.5"/>
<rect x="312.70" y="294.10" width="2.6" height="1.3" fill="#d6d6d6"/>
<line x1="326.00" y1="291.3" x2="326.00" y2="292.5" stroke="#bbb" stroke-width="0.5"/>
<rect x="324.70" y="294.10" width="2.6" height="1.3" fill="#d6d6d6"/>
<line x1="338.00" y1="291.3" x2="338.00" y2="292.5" stroke="#bbb" stroke-width="0.5"/>
<rect x="336.70" y="294.10" width="2.6" height="1.3" fill="#d6d6d6"/>
<line x1="350.00" y1="291.3" x2="350.00" y2="292.5" stroke="#bbb" stroke-width="0.5"/>
<rect x="348.70" y="294.10" width="2.6" height="1.3" fill="#d6d6d6"/>
<path d="M303.76,265.20 C304.03,263.56 304.55,261.66 306.89,260.76 C309.24,259.86 314.20,259.86 317.85,259.80 C321.50,259.74 326.20,259.50 328.81,260.40 C331.41,261.30 333.24,263.40 333.50,265.20 C333.76,267.00 331.94,270.10 330.37,271.20 C328.81,272.30 326.20,272.40 324.11,271.80 C322.02,271.20 319.94,267.60 317.85,267.60 C315.76,267.60 313.68,271.30 311.59,271.80 C309.50,272.30 306.63,271.70 305.33,270.60 C304.03,269.50 303.50,266.84 303.76,265.20Z" fill="#f2f2f2" stroke="#8a8a8a" stroke-width="0.7"/><path d="M307.52,265.36 C307.71,264.16 308.09,262.76 309.82,262.10 C311.54,261.44 315.17,261.44 317.85,261.40 C320.53,261.36 323.97,261.18 325.88,261.84 C327.80,262.50 329.14,264.04 329.33,265.36 C329.52,266.68 328.18,268.95 327.03,269.76 C325.88,270.57 323.97,270.64 322.44,270.20 C320.91,269.76 319.38,267.12 317.85,267.12 C316.32,267.12 314.79,269.83 313.26,270.20 C311.73,270.57 309.63,270.13 308.67,269.32 C307.71,268.51 307.33,266.56 307.52,265.36Z" fill="#e8e8e8" stroke="#848484" stroke-width="0.7"/><path d="M311.28,265.52 C311.40,264.75 311.64,263.87 312.74,263.45 C313.83,263.03 316.15,263.03 317.85,263.00 C319.55,262.97 321.75,262.86 322.96,263.28 C324.18,263.70 325.03,264.68 325.15,265.52 C325.28,266.36 324.42,267.81 323.69,268.32 C322.96,268.83 321.75,268.88 320.77,268.60 C319.80,268.32 318.82,266.64 317.85,266.64 C316.88,266.64 315.90,268.37 314.93,268.60 C313.95,268.83 312.62,268.55 312.01,268.04 C311.40,267.53 311.16,266.29 311.28,265.52Z" fill="#dedede" stroke="#7c7c7c" stroke-width="0.7"/>
<path d="M303.40,282.42 C304.21,281.12 309.63,278.13 313.15,276.96 C316.67,275.79 321.27,275.45 324.52,275.40 C327.77,275.35 330.75,275.48 332.65,276.65 C334.55,277.82 335.90,280.29 335.90,282.42 C335.90,284.55 334.55,288.01 332.65,289.44 C330.75,290.87 327.50,291.13 324.52,291.00 C321.55,290.87 317.48,289.70 314.77,288.66 C312.07,287.62 310.17,285.80 308.27,284.76 C306.38,283.72 302.59,283.72 303.40,282.42Z" fill="#dcdcdc" stroke="#747474" stroke-width="0.7"/><path d="M308.55,282.56 C309.16,281.59 313.22,279.35 315.86,278.47 C318.50,277.59 321.96,277.34 324.39,277.30 C326.83,277.26 329.07,277.36 330.49,278.24 C331.91,279.11 332.92,280.97 332.92,282.56 C332.92,284.16 331.91,286.76 330.49,287.83 C329.07,288.90 326.63,289.10 324.39,289.00 C322.16,288.90 319.11,288.02 317.08,287.25 C315.05,286.47 313.63,285.10 312.21,284.32 C310.78,283.54 307.94,283.54 308.55,282.56Z" fill="#c8c8c8" stroke="#686868" stroke-width="0.7"/><path d="M313.70,282.71 C314.11,282.06 316.81,280.56 318.57,279.98 C320.34,279.40 322.64,279.23 324.26,279.20 C325.89,279.17 327.38,279.24 328.32,279.82 C329.27,280.41 329.95,281.64 329.95,282.71 C329.95,283.78 329.27,285.50 328.32,286.22 C327.38,286.94 325.75,287.06 324.26,287.00 C322.77,286.94 320.74,286.35 319.39,285.83 C318.03,285.31 317.09,284.40 316.14,283.88 C315.19,283.36 313.29,283.36 313.70,282.71Z" fill="#b4b4b4" stroke="#5c5c5c" stroke-width="0.7"/>
<path d="M323.50,277.50 C324.17,276.67 327.17,276.20 329.00,276.00 C330.83,275.80 333.30,275.63 334.50,276.30 C335.70,276.97 336.20,278.38 336.20,280.00 C336.20,281.62 335.28,284.17 334.50,286.00 C333.72,287.83 332.58,291.00 331.50,291.00 C330.42,291.00 329.08,287.67 328.00,286.00 C326.92,284.33 325.75,282.42 325.00,281.00 C324.25,279.58 322.83,278.33 323.50,277.50Z" fill="#d4d4d4" stroke="#111" stroke-width="1.0"/><path d="M325.25,278.50 C325.75,277.88 328.00,277.52 329.38,277.38 C330.75,277.23 332.60,277.10 333.50,277.60 C334.40,278.10 334.77,279.16 334.77,280.38 C334.77,281.59 334.09,283.50 333.50,284.88 C332.91,286.25 332.06,288.62 331.25,288.62 C330.44,288.62 329.44,286.12 328.62,284.88 C327.81,283.62 326.94,282.19 326.38,281.12 C325.81,280.06 324.75,279.12 325.25,278.50Z" fill="#c4c4c4" stroke="#333" stroke-width="0.7"/><path d="M327.00,279.50 C327.33,279.08 328.83,278.85 329.75,278.75 C330.67,278.65 331.90,278.57 332.50,278.90 C333.10,279.23 333.35,279.94 333.35,280.75 C333.35,281.56 332.89,282.83 332.50,283.75 C332.11,284.67 331.54,286.25 331.00,286.25 C330.46,286.25 329.79,284.58 329.25,283.75 C328.71,282.92 328.12,281.96 327.75,281.25 C327.38,280.54 326.67,279.92 327.00,279.50Z" fill="#b0b0b0" stroke="#555" stroke-width="0.6"/><path d="M328.54,280.38 C328.73,280.15 329.57,280.02 330.08,279.96 C330.59,279.90 331.28,279.86 331.62,280.04 C331.96,280.23 332.10,280.63 332.10,281.08 C332.10,281.53 331.84,282.25 331.62,282.76 C331.40,283.27 331.08,284.16 330.78,284.16 C330.48,284.16 330.10,283.23 329.80,282.76 C329.50,282.29 329.17,281.76 328.96,281.36 C328.75,280.96 328.35,280.61 328.54,280.38Z" fill="#d8d8d8" stroke="#666" stroke-width="0.5"/>
<line x1="321.9" y1="243.8" x2="321.9" y2="291.3" stroke="#c2c4e0" stroke-width="0.8"/>
<line x1="302" y1="272.3" x2="350" y2="272.3" stroke="#c2c4e0" stroke-width="0.8"/>
<text x="303.20" y="248.20" font-family="Liberation Sans" font-size="4.7" font-weight="bold" text-anchor="start" fill="#222" stroke="#222" stroke-width="0.2" textLength="7.88" lengthAdjust="spacingAndGlyphs">12.9</text>
<text x="349.00" y="248.20" font-family="Liberation Sans" font-size="4.7" font-weight="bold" text-anchor="end" fill="#222" stroke="#222" stroke-width="0.2" textLength="5.62" lengthAdjust="spacingAndGlyphs">5.6</text>
<text x="303.80" y="289.70" font-family="Liberation Sans" font-size="4.7" font-weight="bold" text-anchor="start" fill="#222" stroke="#222" stroke-width="0.2" textLength="7.88" lengthAdjust="spacingAndGlyphs">13.5</text>
<text x="349.00" y="289.70" font-family="Liberation Sans" font-size="4.7" font-weight="bold" text-anchor="end" fill="#222" stroke="#222" stroke-width="0.2" textLength="4.50" lengthAdjust="spacingAndGlyphs">68</text>
<text transform="translate(192,269) rotate(-90)" font-family="Liberation Sans" font-size="8.2" font-weight="bold" font-style="italic" text-anchor="middle" fill="#1a1a1a">FOXP3</text>
<line x1="34.8" y1="302.6" x2="85.9" y2="302.6" stroke="#111" stroke-width="1.45" stroke-dasharray="1.8,0.9"/>
<line x1="113.5" y1="302.6" x2="168.6" y2="302.6" stroke="#111" stroke-width="1.45" stroke-dasharray="1.8,0.9"/>
<text x="99.70" y="305.40" font-family="Liberation Sans" font-size="8.2" font-weight="bold" text-anchor="middle" fill="#1a1a1a" stroke="#1a1a1a" stroke-width="0.22" >CD62L</text>
<line x1="208.8" y1="304.1" x2="260.7" y2="304.1" stroke="#111" stroke-width="1.45" stroke-dasharray="1.8,0.9"/>
<line x1="288.1" y1="304.1" x2="338.3" y2="304.1" stroke="#111" stroke-width="1.45" stroke-dasharray="1.8,0.9"/>
<text x="274.40" y="306.90" font-family="Liberation Sans" font-size="8.2" font-weight="bold" text-anchor="middle" fill="#1a1a1a" stroke="#1a1a1a" stroke-width="0.22" >CD62L</text>
<rect x="395" y="2.3" width="57.30" height="55.70" fill="none" stroke="#c4c4c4" stroke-width="0.9"/>
<rect x="390.80" y="57.30" width="2.6" height="1.3" fill="#d6d6d6"/>
<rect x="390.80" y="43.38" width="2.6" height="1.3" fill="#d6d6d6"/>
<rect x="390.80" y="29.45" width="2.6" height="1.3" fill="#d6d6d6"/>
<rect x="390.80" y="15.52" width="2.6" height="1.3" fill="#d6d6d6"/>
<rect x="390.80" y="1.60" width="2.6" height="1.3" fill="#d6d6d6"/>
<rect x="395.70" y="60.00" width="2.6" height="1.3" fill="#d6d6d6"/>
<rect x="421.75" y="60.00" width="2.6" height="1.3" fill="#d6d6d6"/>
<rect x="447.79" y="60.00" width="2.6" height="1.3" fill="#d6d6d6"/>
<line x1="408.1" y1="2.3" x2="408.1" y2="58" stroke="#c2c4e0" stroke-width="0.8"/>
<line x1="395" y1="47" x2="452.3" y2="47" stroke="#c8c8c8" stroke-width="0.8"/>
<path d="M396.6,55.5 C397.5,50 399.5,46 402.5,44.4 C405,42 410,41.3 416.5,41.5 C420,41.8 420.5,46 418.5,48.2 C416,50 412,49.8 410,51 C408.3,52.3 408.2,55 408.6,57.8 L397,57.8 Z" fill="#d0d0d0" stroke="#141414" stroke-width="1.3"/><path d="M398.8,57.5 C399.5,52 401.5,48.2 404.2,47.4 C406.8,48 407.4,52 407.2,57.5 Z" fill="#6a6a6a" stroke="#333" stroke-width="0.6"/><path d="M404,46.6 C405,44 407,43.2 409,43.2 L416.2,43.2 C418.2,44.2 418.2,46.2 416.2,47 L409,47 C407,47 405.5,47 404,46.6 Z" fill="#8a8a8a" stroke="#222" stroke-width="0.6"/>
<rect x="396.25" y="28.8" width="36.50" height="18.10" fill="none" stroke="#161616" stroke-width="1.3"/>
<line x1="408.6" y1="28.8" x2="408.6" y2="46.9" stroke="#161616" stroke-width="1.3"/>
<text x="398.05" y="35.00" font-family="Liberation Sans" font-size="5.6" font-weight="bold" text-anchor="start" fill="#222" stroke="#222" stroke-width="0.22" >2.1</text>
<text x="431.55" y="35.00" font-family="Liberation Sans" font-size="5.6" font-weight="bold" text-anchor="end" fill="#222" stroke="#222" stroke-width="0.22" >4.5</text>
<text transform="translate(382.6,27.8) rotate(-90)" font-family="Liberation Sans" font-size="7.4" font-weight="bold" font-style="italic" text-anchor="middle" fill="#1a1a1a">FOXP3</text>
<text x="423.70" y="70.00" font-family="Liberation Sans" font-size="7.4" font-weight="bold" text-anchor="middle" fill="#1a1a1a" stroke="#1a1a1a" stroke-width="0.22" >CD25</text>
<line x1="407.60" y1="58.50" x2="411.01" y2="77.19" stroke="#161616" stroke-width="1.7" stroke-dasharray="3,1.6"/>
<path d="M412.00,82.60 L407.10,76.38 L411.07,77.48 L414.38,75.05 Z" fill="#161616"/>
<line x1="433.50" y1="47.20" x2="461.37" y2="67.74" stroke="#161616" stroke-width="1.7" stroke-dasharray="3,1.6"/>
<path d="M465.80,71.00 L457.97,69.83 L461.61,67.92 L462.36,63.87 Z" fill="#161616"/>
<text transform="translate(379.4,97) rotate(-90)" font-family="Liberation Sans" font-size="6.1" font-weight="bold" text-anchor="middle" fill="#222">counts</text>
<rect x="388" y="71.9" width="57.00" height="44.40" fill="none" stroke="#d2d2d2" stroke-width="0.8"/>
<line x1="388" y1="71.9" x2="388" y2="116.3" stroke="#9a9aa8" stroke-width="0.9"/>
<rect x="383.50" y="73.40" width="2" height="1" fill="#cfcfcf"/>
<rect x="383.50" y="81.88" width="2" height="1" fill="#cfcfcf"/>
<rect x="383.50" y="90.36" width="2" height="1" fill="#cfcfcf"/>
<rect x="383.50" y="98.84" width="2" height="1" fill="#cfcfcf"/>
<rect x="383.50" y="107.32" width="2" height="1" fill="#cfcfcf"/>
<rect x="383.50" y="115.80" width="2" height="1" fill="#cfcfcf"/>
<rect x="386.70" y="118.50" width="2.6" height="1.3" fill="#d6d6d6"/>
<rect x="400.95" y="118.50" width="2.6" height="1.3" fill="#d6d6d6"/>
<rect x="415.20" y="118.50" width="2.6" height="1.3" fill="#d6d6d6"/>
<rect x="429.45" y="118.50" width="2.6" height="1.3" fill="#d6d6d6"/>
<rect x="443.70" y="118.50" width="2.6" height="1.3" fill="#d6d6d6"/>
<path d="M388.6,112 C390,109 391.5,107 392.2,105.8 C393.5,102 395.5,93 396.9,88.7 C398,84 399.5,77 400.8,73.4 C401.8,76 403.5,86 404.7,93.4 C405.3,99 405.8,103 406.2,105.8 C406.8,110 407.2,112 407.8,112.5 C409,114 412,114.4 418,114.6 C410,114.8 414,115 418,115 L444.6,115.6" fill="none" stroke="#a88c93" stroke-width="0.9"/>
<path d="M418,115 C420,113 422,111.5 424,113 C427,111.5 430,111 433,113 C436,115 440,115.5 444,115.6" fill="none" stroke="#b0b0d8" stroke-width="0.7"/>
<line x1="416.25" y1="92.95" x2="416.25" y2="99.55" stroke="#161616" stroke-width="1.3"/>
<line x1="416.25" y1="96.25" x2="447.7" y2="96.25" stroke="#161616" stroke-width="1.55"/>
<text x="431.30" y="93.85" font-family="Liberation Sans" font-size="6.6" font-weight="bold" text-anchor="middle" fill="#222" stroke="#222" stroke-width="0.22" >8.33</text>
<rect x="459.4" y="71.6" width="56.20" height="44.70" fill="none" stroke="#d2d2d2" stroke-width="0.8"/>
<line x1="459.4" y1="71.6" x2="459.4" y2="116.3" stroke="#9a9aa8" stroke-width="0.9"/>
<rect x="454.90" y="73.10" width="2" height="1" fill="#cfcfcf"/>
<rect x="454.90" y="81.64" width="2" height="1" fill="#cfcfcf"/>
<rect x="454.90" y="90.18" width="2" height="1" fill="#cfcfcf"/>
<rect x="454.90" y="98.72" width="2" height="1" fill="#cfcfcf"/>
<rect x="454.90" y="107.26" width="2" height="1" fill="#cfcfcf"/>
<rect x="454.90" y="115.80" width="2" height="1" fill="#cfcfcf"/>
<rect x="458.10" y="118.50" width="2.6" height="1.3" fill="#d6d6d6"/>
<rect x="472.15" y="118.50" width="2.6" height="1.3" fill="#d6d6d6"/>
<rect x="486.20" y="118.50" width="2.6" height="1.3" fill="#d6d6d6"/>
<rect x="500.25" y="118.50" width="2.6" height="1.3" fill="#d6d6d6"/>
<rect x="514.30" y="118.50" width="2.6" height="1.3" fill="#d6d6d6"/>
<path d="M459.7,112.5 C461,110 463,104 466.2,97.5 C468.5,90 470,80 471.9,74.4 C473.5,82 474.8,95 475.6,101 C476.8,108 477.8,112 478.8,113.8 C482,115 490,115.2 500,115.3 L515.3,115.6" fill="none" stroke="#a88c93" stroke-width="0.9"/>
<line x1="483.75" y1="92.95" x2="483.75" y2="99.55" stroke="#161616" stroke-width="1.3"/>
<line x1="483.75" y1="96.25" x2="515.6" y2="96.25" stroke="#161616" stroke-width="1.55"/>
<text x="501.80" y="93.85" font-family="Liberation Sans" font-size="6.6" font-weight="bold" text-anchor="middle" fill="#222" stroke="#222" stroke-width="0.22" >3.94</text>
<line x1="393.75" y1="128.3" x2="442.7" y2="128.3" stroke="#111" stroke-width="1.45" stroke-dasharray="1.8,0.9"/>
<line x1="463.8" y1="128.3" x2="516.25" y2="128.3" stroke="#111" stroke-width="1.45" stroke-dasharray="1.8,0.9"/>
<text x="453.25" y="131.10" font-family="Liberation Sans" font-size="8.4" font-weight="bold" text-anchor="middle" fill="#1a1a1a" stroke="#1a1a1a" stroke-width="0.22" >BrdU</text>
<rect x="391.25" y="152.4" width="58.15" height="57.60" fill="none" stroke="#c4c4c4" stroke-width="0.9"/>
<rect x="387.05" y="209.30" width="2.6" height="1.3" fill="#d6d6d6"/>
<rect x="387.05" y="194.90" width="2.6" height="1.3" fill="#d6d6d6"/>
<rect x="387.05" y="180.50" width="2.6" height="1.3" fill="#d6d6d6"/>
<rect x="387.05" y="166.10" width="2.6" height="1.3" fill="#d6d6d6"/>
<rect x="387.05" y="151.70" width="2.6" height="1.3" fill="#d6d6d6"/>
<rect x="391.95" y="212.00" width="2.6" height="1.3" fill="#d6d6d6"/>
<rect x="418.38" y="212.00" width="2.6" height="1.3" fill="#d6d6d6"/>
<rect x="444.81" y="212.00" width="2.6" height="1.3" fill="#d6d6d6"/>
<line x1="404.4" y1="152.4" x2="404.4" y2="210" stroke="#c2c4e0" stroke-width="0.8"/>
<line x1="391.25" y1="198.8" x2="449.4" y2="198.8" stroke="#c8c8c8" stroke-width="0.8"/>
<path d="M392.3,209.8 C392,205 394,201 397.5,199.4 C399.5,198.8 403,199 404.5,201 C405,204 404.8,207 404.6,209.8 Z" fill="#9a9a9a" stroke="#161616" stroke-width="1"/><ellipse cx="398.8" cy="205" rx="3" ry="4.3" fill="#707070"/><path d="M397.6,199.6 C397.6,196 399.8,194.3 401.2,194.3 C403,194.3 404,196.5 403.9,199.6 Z" fill="#111"/>
<rect x="391.5" y="180.6" width="36.90" height="18.80" fill="none" stroke="#161616" stroke-width="1.3"/>
<line x1="403.7" y1="180.6" x2="403.7" y2="199.4" stroke="#161616" stroke-width="1.3"/>
<text x="393.30" y="186.80" font-family="Liberation Sans" font-size="5.6" font-weight="bold" text-anchor="start" fill="#222" stroke="#222" stroke-width="0.22" >1.6</text>
<text x="427.20" y="186.80" font-family="Liberation Sans" font-size="5.6" font-weight="bold" text-anchor="end" fill="#222" stroke="#222" stroke-width="0.22" >0.6</text>
<text transform="translate(382.6,180.7) rotate(-90)" font-family="Liberation Sans" font-size="7.4" font-weight="bold" font-style="italic" text-anchor="middle" fill="#1a1a1a">FOXP3</text>
<text x="418.60" y="221.60" font-family="Liberation Sans" font-size="8.2" font-weight="bold" text-anchor="middle" fill="#1a1a1a" stroke="#1a1a1a" stroke-width="0.22" >CD25</text>
<line x1="403.00" y1="210.50" x2="411.12" y2="230.31" stroke="#161616" stroke-width="1.7" stroke-dasharray="3,1.6"/>
<path d="M413.20,235.40 L407.12,230.32 L411.23,230.59 L413.97,227.52 Z" fill="#161616"/>
<line x1="424.40" y1="195.80" x2="462.45" y2="221.70" stroke="#161616" stroke-width="1.7" stroke-dasharray="3,1.6"/>
<path d="M467.00,224.80 L459.13,223.92 L462.70,221.87 L463.30,217.80 Z" fill="#161616"/>
<text transform="translate(382.2,245.2) rotate(-90)" font-family="Liberation Sans" font-size="6.1" font-weight="bold" text-anchor="middle" fill="#222">counts</text>
<rect x="388.5" y="224.4" width="57.10" height="45.00" fill="none" stroke="#d2d2d2" stroke-width="0.8"/>
<line x1="388.5" y1="224.4" x2="388.5" y2="269.4" stroke="#9a9aa8" stroke-width="0.9"/>
<rect x="384.00" y="225.90" width="2" height="1" fill="#cfcfcf"/>
<rect x="384.00" y="234.50" width="2" height="1" fill="#cfcfcf"/>
<rect x="384.00" y="243.10" width="2" height="1" fill="#cfcfcf"/>
<rect x="384.00" y="251.70" width="2" height="1" fill="#cfcfcf"/>
<rect x="384.00" y="260.30" width="2" height="1" fill="#cfcfcf"/>
<rect x="384.00" y="268.90" width="2" height="1" fill="#cfcfcf"/>
<rect x="387.20" y="271.60" width="2.6" height="1.3" fill="#d6d6d6"/>
<rect x="401.47" y="271.60" width="2.6" height="1.3" fill="#d6d6d6"/>
<rect x="415.75" y="271.60" width="2.6" height="1.3" fill="#d6d6d6"/>
<rect x="430.03" y="271.60" width="2.6" height="1.3" fill="#d6d6d6"/>
<rect x="444.30" y="271.60" width="2.6" height="1.3" fill="#d6d6d6"/>
<path d="M388.8,263.8 C390.5,258 392.5,254 393.8,252.5 C395,249 396.5,247 397.5,246.3 C399,242 400.5,230 401.3,227 C402,229 403,232 405,245 C406,252 406.5,258 406.9,261 C407.5,265 408,266.5 408.8,266.9 C412,268 416,268 418.8,266 C421,264 424,262.5 427,263.5 C430,265 432,266 433.8,267.5 C437,268.5 441,269 445,269" fill="none" stroke="#a88c93" stroke-width="0.9"/>
<line x1="413.1" y1="246.2" x2="413.1" y2="252.8" stroke="#161616" stroke-width="1.3"/>
<line x1="413.1" y1="249.5" x2="445" y2="249.5" stroke="#161616" stroke-width="1.55"/>
<text x="433.80" y="247.10" font-family="Liberation Sans" font-size="6.6" font-weight="bold" text-anchor="middle" fill="#222" stroke="#222" stroke-width="0.22" >13.05</text>
<rect x="460" y="224.6" width="57.50" height="44.80" fill="none" stroke="#d2d2d2" stroke-width="0.8"/>
<line x1="460" y1="224.6" x2="460" y2="269.4" stroke="#9a9aa8" stroke-width="0.9"/>
<rect x="455.50" y="226.10" width="2" height="1" fill="#cfcfcf"/>
<rect x="455.50" y="234.66" width="2" height="1" fill="#cfcfcf"/>
<rect x="455.50" y="243.22" width="2" height="1" fill="#cfcfcf"/>
<rect x="455.50" y="251.78" width="2" height="1" fill="#cfcfcf"/>
<rect x="455.50" y="260.34" width="2" height="1" fill="#cfcfcf"/>
<rect x="455.50" y="268.90" width="2" height="1" fill="#cfcfcf"/>
<rect x="458.70" y="271.60" width="2.6" height="1.3" fill="#d6d6d6"/>
<rect x="473.07" y="271.60" width="2.6" height="1.3" fill="#d6d6d6"/>
<rect x="487.45" y="271.60" width="2.6" height="1.3" fill="#d6d6d6"/>
<rect x="501.82" y="271.60" width="2.6" height="1.3" fill="#d6d6d6"/>
<rect x="516.20" y="271.60" width="2.6" height="1.3" fill="#d6d6d6"/>
<path d="M460.6,268 C462,264 465,257 467.5,252.5 C469,246 470.5,232 471.3,227 C472,231 472.5,233 473.2,231 C473.8,228 474.4,226 475,227 C476,236 477,248 477.5,252.5 C478.5,258 479.2,263 480,265.6 C483,267 486,264.5 489,265.5 C491.5,266.5 493,263.5 495,264.5 C497,266 499,263 501,264.5 C503,266 504,267 505,268 L517,268.8" fill="none" stroke="#a88c93" stroke-width="0.9"/>
<line x1="485" y1="246.2" x2="485" y2="252.8" stroke="#161616" stroke-width="1.3"/>
<line x1="485" y1="249.5" x2="516.9" y2="249.5" stroke="#161616" stroke-width="1.55"/>
<text x="509.00" y="247.10" font-family="Liberation Sans" font-size="6.6" font-weight="bold" text-anchor="middle" fill="#222" stroke="#222" stroke-width="0.22" >12.01</text>
<line x1="393.75" y1="280.9" x2="442.4" y2="280.9" stroke="#111" stroke-width="1.45" stroke-dasharray="1.8,0.9"/>
<line x1="463.90000000000003" y1="280.9" x2="516.25" y2="280.9" stroke="#111" stroke-width="1.45" stroke-dasharray="1.8,0.9"/>
<text x="453.15" y="283.70" font-family="Liberation Sans" font-size="8.4" font-weight="bold" text-anchor="middle" fill="#1a1a1a" stroke="#1a1a1a" stroke-width="0.22" >BrdU</text>
</svg></body></html>
